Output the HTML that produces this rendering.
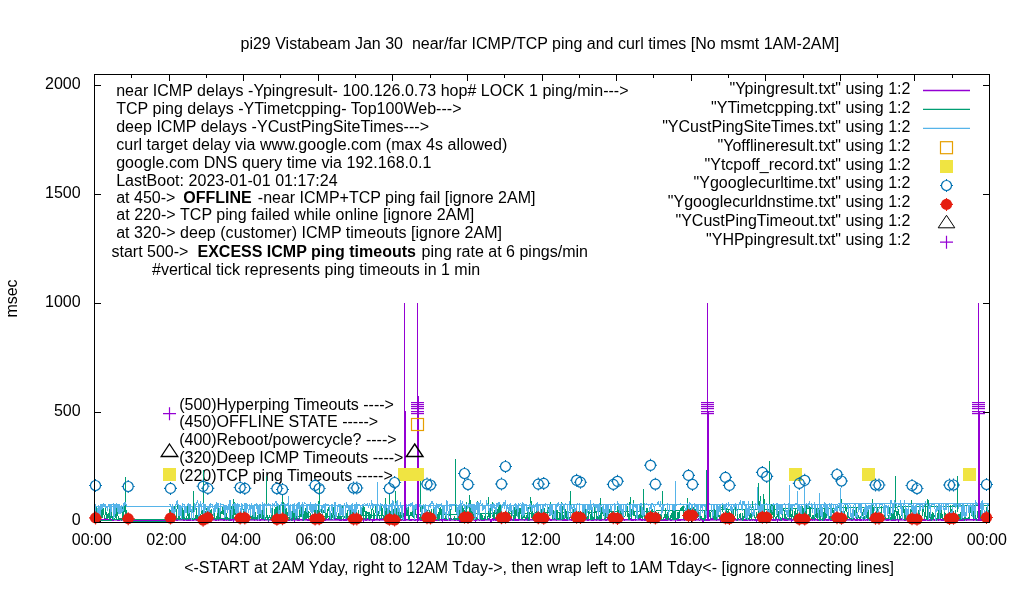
<!DOCTYPE html>
<html><head><meta charset="utf-8"><style>html,body{margin:0;padding:0;background:#fff;overflow:hidden}svg{display:block;will-change:transform}</style></head>
<body><svg width="1020" height="600" viewBox="0 0 1020 600">
<rect width="1020" height="600" fill="#fff"/>
<g font-family="Liberation Sans, sans-serif" font-size="16" fill="#000" style="white-space:pre"><text x="240.5" y="48.8" text-anchor="start" >pi29 Vistabeam Jan 30  near/far ICMP/TCP ping and curl times [No msmt 1AM-2AM]</text><text x="80.6" y="525.0" text-anchor="end" >0</text><text x="80.6" y="416.0" text-anchor="end" >500</text><text x="80.6" y="307.0" text-anchor="end" >1000</text><text x="80.6" y="198.0" text-anchor="end" >1500</text><text x="80.6" y="89.0" text-anchor="end" >2000</text><text x="91.8" y="544.9" text-anchor="middle" >00:00</text><text x="166.38333333333333" y="544.9" text-anchor="middle" >02:00</text><text x="240.96666666666667" y="544.9" text-anchor="middle" >04:00</text><text x="315.55" y="544.9" text-anchor="middle" >06:00</text><text x="390.1333333333333" y="544.9" text-anchor="middle" >08:00</text><text x="465.7166666666667" y="544.9" text-anchor="middle" >10:00</text><text x="540.6999999999999" y="544.9" text-anchor="middle" >12:00</text><text x="614.7833333333333" y="544.9" text-anchor="middle" >14:00</text><text x="689.8666666666666" y="544.9" text-anchor="middle" >16:00</text><text x="764.25" y="544.9" text-anchor="middle" >18:00</text><text x="838.6333333333333" y="544.9" text-anchor="middle" >20:00</text><text x="912.9166666666666" y="544.9" text-anchor="middle" >22:00</text><text x="986.8" y="544.9" text-anchor="middle" >00:00</text><text x="184.2" y="573" text-anchor="start" >&lt;-START at 2AM Yday, right to 12AM Tday-&gt;, then wrap left to 1AM Tday&lt;- [ignore connecting lines]</text><text transform="translate(17.2,298.5) rotate(-90)" text-anchor="middle">msec</text><text x="116.2" y="95.9" text-anchor="start" letter-spacing="0.03">near ICMP delays -Ypingresult- 100.126.0.73 hop# LOCK 1 ping/min---&gt;</text><text x="116.2" y="113.85" text-anchor="start" letter-spacing="0.03">TCP ping delays -YTimetcpping- Top100Web---&gt;</text><text x="116.2" y="131.8" text-anchor="start" letter-spacing="0.03">deep ICMP delays -YCustPingSiteTimes---&gt;</text><text x="116.2" y="149.75" text-anchor="start" letter-spacing="0.03">curl target delay via www.google.com (max 4s allowed)</text><text x="116.2" y="167.7" text-anchor="start" letter-spacing="0.03">google.com DNS query time via 192.168.0.1</text><text x="116.2" y="185.65" text-anchor="start" letter-spacing="0.03">LastBoot: 2023-01-01 01:17:24</text><text x="116.2" y="202.8">at 450-&gt; <tspan x="183.3" font-weight="bold">OFFLINE</tspan><tspan x="257.8">-near ICMP+TCP ping fail [ignore 2AM]</tspan></text><text x="116.2" y="220.4" text-anchor="start" letter-spacing="0.05">at 220-&gt; TCP ping failed while online [ignore 2AM]</text><text x="116.2" y="238.2" text-anchor="start" letter-spacing="0.03">at 320-&gt; deep (customer) ICMP timeouts [ignore 2AM]</text><text x="111.5" y="257.3">start 500-&gt;<tspan x="197.5" font-weight="bold">EXCESS ICMP ping timeouts</tspan><tspan x="421.6">ping rate at 6 pings/min</tspan></text><text x="152" y="275.1" text-anchor="start" >#vertical tick represents ping timeouts in 1 min</text><text x="910.4" y="93.9" text-anchor="end" >"Ypingresult.txt" using 1:2</text><text x="910.4" y="112.80000000000001" text-anchor="end" >"YTimetcpping.txt" using 1:2</text><text x="910.4" y="131.7" text-anchor="end" >"YCustPingSiteTimes.txt" using 1:2</text><text x="910.4" y="150.6" text-anchor="end" >"Yofflineresult.txt" using 1:2</text><text x="910.4" y="169.5" text-anchor="end" >"Ytcpoff_record.txt" using 1:2</text><text x="910.4" y="188.4" text-anchor="end" >"Ygooglecurltime.txt" using 1:2</text><text x="910.4" y="207.3" text-anchor="end" >"Ygooglecurldnstime.txt" using 1:2</text><text x="910.4" y="226.2" text-anchor="end" >"YCustPingTimeout.txt" using 1:2</text><text x="910.4" y="245.1" text-anchor="end" >"YHPpingresult.txt" using 1:2</text><text x="179.2" y="409.9" text-anchor="start" >(500)Hyperping Timeouts ----&gt;</text><text x="179.2" y="427.35" text-anchor="start" >(450)OFFLINE STATE -----&gt;</text><text x="179.2" y="444.8" text-anchor="start" >(400)Reboot/powercycle? ----&gt;</text><text x="179.2" y="463.2" text-anchor="start" >(320)Deep ICMP Timeouts ----&gt;</text><text x="179.2" y="480.7" text-anchor="start" >(220)TCP ping Timeouts -----&gt;</text></g><rect x="95" y="521" width="6" height="1" fill="#000"/><rect x="983" y="521" width="6" height="1" fill="#000"/><rect x="95" y="412" width="6" height="1" fill="#000"/><rect x="983" y="412" width="6" height="1" fill="#000"/><rect x="95" y="303" width="6" height="1" fill="#000"/><rect x="983" y="303" width="6" height="1" fill="#000"/><rect x="95" y="194" width="6" height="1" fill="#000"/><rect x="983" y="194" width="6" height="1" fill="#000"/><rect x="95" y="85" width="6" height="1" fill="#000"/><rect x="983" y="85" width="6" height="1" fill="#000"/><rect x="94" y="75" width="1" height="6" fill="#000"/><rect x="94" y="516" width="1" height="6" fill="#000"/><rect x="131" y="75" width="1" height="3" fill="#000"/><rect x="131" y="519" width="1" height="3" fill="#000"/><rect x="169" y="75" width="1" height="6" fill="#000"/><rect x="169" y="516" width="1" height="6" fill="#000"/><rect x="206" y="75" width="1" height="3" fill="#000"/><rect x="206" y="519" width="1" height="3" fill="#000"/><rect x="243" y="75" width="1" height="6" fill="#000"/><rect x="243" y="516" width="1" height="6" fill="#000"/><rect x="280" y="75" width="1" height="3" fill="#000"/><rect x="280" y="519" width="1" height="3" fill="#000"/><rect x="318" y="75" width="1" height="6" fill="#000"/><rect x="318" y="516" width="1" height="6" fill="#000"/><rect x="355" y="75" width="1" height="3" fill="#000"/><rect x="355" y="519" width="1" height="3" fill="#000"/><rect x="392" y="75" width="1" height="6" fill="#000"/><rect x="392" y="516" width="1" height="6" fill="#000"/><rect x="430" y="75" width="1" height="3" fill="#000"/><rect x="430" y="519" width="1" height="3" fill="#000"/><rect x="467" y="75" width="1" height="6" fill="#000"/><rect x="467" y="516" width="1" height="6" fill="#000"/><rect x="504" y="75" width="1" height="3" fill="#000"/><rect x="504" y="519" width="1" height="3" fill="#000"/><rect x="542" y="75" width="1" height="6" fill="#000"/><rect x="542" y="516" width="1" height="6" fill="#000"/><rect x="579" y="75" width="1" height="3" fill="#000"/><rect x="579" y="519" width="1" height="3" fill="#000"/><rect x="616" y="75" width="1" height="6" fill="#000"/><rect x="616" y="516" width="1" height="6" fill="#000"/><rect x="653" y="75" width="1" height="3" fill="#000"/><rect x="653" y="519" width="1" height="3" fill="#000"/><rect x="691" y="75" width="1" height="6" fill="#000"/><rect x="691" y="516" width="1" height="6" fill="#000"/><rect x="728" y="75" width="1" height="3" fill="#000"/><rect x="728" y="519" width="1" height="3" fill="#000"/><rect x="765" y="75" width="1" height="6" fill="#000"/><rect x="765" y="516" width="1" height="6" fill="#000"/><rect x="803" y="75" width="1" height="3" fill="#000"/><rect x="803" y="519" width="1" height="3" fill="#000"/><rect x="840" y="75" width="1" height="6" fill="#000"/><rect x="840" y="516" width="1" height="6" fill="#000"/><rect x="877" y="75" width="1" height="3" fill="#000"/><rect x="877" y="519" width="1" height="3" fill="#000"/><rect x="914" y="75" width="1" height="6" fill="#000"/><rect x="914" y="516" width="1" height="6" fill="#000"/><rect x="952" y="75" width="1" height="3" fill="#000"/><rect x="952" y="519" width="1" height="3" fill="#000"/><rect x="989" y="75" width="1" height="6" fill="#000"/><rect x="989" y="516" width="1" height="6" fill="#000"/><rect x="94.5" y="519" width="32.81666666666666" height="1.6" fill="#9400d3"/><rect x="169.08333333333331" y="519" width="819.2979166666667" height="1.6" fill="#9400d3"/><path d="M94.5,506.5L989.5,503.5" stroke="#56b4e9" stroke-width="1" fill="none" shape-rendering="crispEdges"/><path d="M94.50,518.7L95.12,520.4L95.74,520.7L96.36,520.4L96.99,518.7L97.61,519.3L98.23,520.2L98.85,519.7L99.47,520.1L100.09,520.1L100.72,519.4L101.34,520.3L101.96,519.8L102.58,520.5L103.20,519.9L103.82,520.1L104.44,520.5L105.07,518.7L105.69,518.8L106.31,519.4L106.93,518.8L107.55,520.7L108.17,520.5L108.80,520.3L109.42,520.4L110.04,519.2L110.66,520.7L111.28,520.6L111.90,520.6L112.52,520.4L113.15,518.9L113.77,520.0L114.39,519.8L115.01,519.2L115.63,519.4L116.25,519.8L116.88,519.0L117.50,520.3L118.12,519.8L118.74,520.1L119.36,520.7L119.98,519.6L120.60,518.9L121.23,520.7L121.85,519.7L122.47,519.6L123.09,520.3L123.71,518.9L124.33,519.9L124.95,520.0L125.58,519.3L126.20,518.8L126.82,519.2M169.08,520.2L169.70,519.6L170.33,519.4L170.95,518.9L171.57,520.5L172.19,519.6L172.81,519.3L173.43,519.7L174.06,519.3L174.68,520.5L175.30,518.7L175.92,519.8L176.54,520.1L177.16,519.8L177.78,520.2L178.41,518.8L179.03,519.4L179.65,518.9L180.27,519.2L180.89,519.6L181.51,519.6L182.14,519.1L182.76,519.7L183.38,518.6L184.00,520.4L184.62,520.6L185.24,519.5L185.86,519.1L186.49,520.4L187.11,520.2L187.73,518.9L188.35,520.0L188.97,520.6L189.59,519.0L190.22,520.6L190.84,518.7L191.46,519.1L192.08,520.5L192.70,518.6L193.32,518.8L193.94,520.3L194.57,519.3L195.19,519.8L195.81,519.6L196.43,520.7L197.05,520.1L197.67,520.4L198.30,519.1L198.92,519.1L199.54,520.7L200.16,520.8L200.78,520.1L201.40,519.4L202.02,520.4L202.65,519.4L203.27,518.7L203.89,519.2L204.51,518.6L205.13,519.6L205.75,520.6L206.38,519.3L207.00,519.1L207.62,520.8L208.24,519.1L208.86,518.9L209.48,519.1L210.10,520.8L210.73,519.6L211.35,519.0L211.97,519.2L212.59,519.4L213.21,518.6L213.83,519.8L214.45,519.0L215.08,519.8L215.70,520.2L216.32,520.5L216.94,520.0L217.56,518.8L218.18,520.7L218.81,520.4L219.43,519.0L220.05,520.2L220.67,518.9L221.29,519.5L221.91,519.1L222.53,518.9L223.16,518.8L223.78,520.7L224.40,520.8L225.02,518.7L225.64,518.9L226.26,518.7L226.89,520.3L227.51,519.9L228.13,519.2L228.75,520.2L229.37,520.1L229.99,520.6L230.61,518.8L231.24,519.6L231.86,520.5L232.48,519.4L233.10,518.7L233.72,520.7L234.34,519.0L234.97,520.2L235.59,518.7L236.21,519.8L236.83,519.1L237.45,520.2L238.07,520.1L238.69,519.6L239.32,520.6L239.94,518.7L240.56,519.9L241.18,520.6L241.80,520.4L242.42,520.3L243.05,520.2L243.67,518.7L244.29,519.1L244.91,520.3L245.53,519.7L246.15,520.1L246.77,520.3L247.40,520.6L248.02,520.5L248.64,519.4L249.26,519.6L249.88,519.0L250.50,519.3L251.12,518.8L251.75,519.6L252.37,519.5L252.99,519.9L253.61,519.5L254.23,520.1L254.85,520.3L255.48,519.5L256.10,519.7L256.72,519.7L257.34,520.4L257.96,520.3L258.58,518.6L259.20,520.2L259.83,518.9L260.45,520.7L261.07,519.8L261.69,519.2L262.31,519.7L262.93,518.7L263.56,518.6L264.18,519.1L264.80,520.6L265.42,519.0L266.04,519.2L266.66,519.7L267.28,519.8L267.91,520.0L268.53,520.8L269.15,519.3L269.77,519.6L270.39,519.7L271.01,519.3L271.64,520.5L272.26,519.9L272.88,520.1L273.50,518.8L274.12,520.4L274.74,519.5L275.36,519.9L275.99,519.6L276.61,518.6L277.23,518.6L277.85,520.2L278.47,520.7L279.09,520.4L279.72,518.7L280.34,519.4L280.96,520.3L281.58,519.9L282.20,519.4L282.82,519.5L283.44,520.5L284.07,519.4L284.69,519.1L285.31,520.3L285.93,520.6L286.55,519.0L287.17,518.7L287.80,519.9L288.42,519.8L289.04,520.7L289.66,519.8L290.28,519.5L290.90,520.1L291.52,518.7L292.15,520.3L292.77,520.7L293.39,519.2L294.01,518.6L294.63,520.6L295.25,519.6L295.88,518.7L296.50,518.9L297.12,520.6L297.74,519.2L298.36,518.8L298.98,520.4L299.60,520.6L300.23,519.0L300.85,519.9L301.47,519.5L302.09,519.7L302.71,520.4L303.33,519.6L303.95,520.2L304.58,519.8L305.20,519.2L305.82,519.9L306.44,518.7L307.06,518.9L307.68,520.4L308.31,520.7L308.93,520.4L309.55,520.7L310.17,519.6L310.79,520.0L311.41,520.1L312.03,519.6L312.66,520.7L313.28,518.9L313.90,520.4L314.52,519.8L315.14,519.4L315.76,519.7L316.39,520.5L317.01,519.1L317.63,520.0L318.25,519.6L318.87,519.9L319.49,519.9L320.11,519.8L320.74,519.0L321.36,519.3L321.98,518.6L322.60,520.8L323.22,519.4L323.84,519.8L324.47,520.8L325.09,520.4L325.71,520.6L326.33,519.0L326.95,519.5L327.57,519.9L328.19,519.8L328.82,518.8L329.44,518.7L330.06,519.2L330.68,518.7L331.30,518.7L331.92,519.9L332.55,519.1L333.17,519.4L333.79,519.4L334.41,519.0L335.03,518.8L335.65,519.0L336.27,519.7L336.90,519.9L337.52,519.7L338.14,519.3L338.76,518.8L339.38,519.1L340.00,520.5L340.62,519.4L341.25,520.0L341.87,518.7L342.49,520.0L343.11,520.1L343.73,520.5L344.35,520.6L344.98,519.2L345.60,520.4L346.22,518.9L346.84,520.7L347.46,519.0L348.08,519.7L348.70,519.8L349.33,519.9L349.95,519.1L350.57,519.3L351.19,520.3L351.81,519.6L352.43,520.0L353.06,519.3L353.68,520.4L354.30,519.8L354.92,520.4L355.54,519.3L356.16,518.8L356.78,520.5L357.41,519.3L358.03,519.6L358.65,520.7L359.27,518.7L359.89,520.0L360.51,519.6L361.14,519.8L361.76,520.5L362.38,519.1L363.00,518.8L363.62,520.8L364.24,519.8L364.86,518.6L365.49,520.0L366.11,519.4L366.73,520.7L367.35,518.8L367.97,519.9L368.59,519.2L369.22,520.4L369.84,520.4L370.46,518.9L371.08,519.1L371.70,519.5L372.32,520.8L372.94,519.2L373.57,520.3L374.19,520.3L374.81,519.7L375.43,519.3L376.05,518.9L376.67,519.0L377.30,519.3L377.92,519.4L378.54,519.2L379.16,519.5L379.78,520.7L380.40,519.0L381.02,520.2L381.65,518.7L382.27,518.6L382.89,519.3L383.51,519.5L384.13,520.2L384.75,520.8L385.38,520.0L386.00,518.7L386.62,519.4L387.24,520.3L387.86,519.6L388.48,519.5L389.10,520.0L389.73,520.3L390.35,520.5L390.97,519.7L391.59,520.5L392.21,520.5L392.83,518.9L393.45,520.6L394.08,520.1L394.70,520.8L395.32,519.0L395.94,519.7L396.56,519.2L397.18,519.4L397.81,520.8L398.43,519.5L399.05,520.6L399.67,520.5L400.29,519.3L400.91,520.8L401.53,519.8L402.16,519.9L402.78,519.1L403.40,519.1L404.02,520.5L404.64,519.2L405.26,519.5L405.89,518.9L406.51,519.4L407.13,519.2L407.75,519.0L408.37,519.4L408.99,519.4L409.61,520.1L410.24,520.6L410.86,519.5L411.48,520.1L412.10,518.9L412.72,519.8L413.34,519.5L413.97,519.7L414.59,520.5L415.21,520.4L415.83,519.6L416.45,519.8L417.07,519.2L417.69,520.7L418.32,518.8L418.94,520.1L419.56,519.1L420.18,519.2L420.80,520.4L421.42,520.6L422.05,518.7L422.67,520.2L423.29,520.8L423.91,520.6L424.53,518.9L425.15,519.9L425.77,519.6L426.40,519.8L427.02,519.7L427.64,520.1L428.26,519.7L428.88,518.9L429.50,519.5L430.12,518.6L430.75,520.3L431.37,518.8L431.99,519.1L432.61,520.4L433.23,519.1L433.85,519.1L434.48,520.3L435.10,520.3L435.72,520.2L436.34,520.4L436.96,520.7L437.58,520.4L438.20,520.1L438.83,520.4L439.45,520.4L440.07,519.5L440.69,520.0L441.31,520.4L441.93,519.4L442.56,520.7L443.18,518.6L443.80,518.8L444.42,520.1L445.04,520.0L445.66,520.7L446.28,520.6L446.91,518.9L447.53,520.3L448.15,520.1L448.77,519.9L449.39,519.0L450.01,520.7L450.64,519.6L451.26,519.0L451.88,518.9L452.50,519.4L453.12,518.7L453.74,518.8L454.36,519.3L454.99,520.7L455.61,520.5L456.23,518.7L456.85,519.9L457.47,520.3L458.09,520.5L458.72,519.9L459.34,520.7L459.96,518.6L460.58,520.4L461.20,519.3L461.82,519.8L462.44,520.2L463.07,520.8L463.69,518.9L464.31,519.5L464.93,520.1L465.55,520.7L466.17,520.2L466.80,519.3L467.42,518.8L468.04,520.3L468.66,519.1L469.28,519.6L469.90,519.9L470.52,520.6L471.15,520.0L471.77,518.9L472.39,518.7L473.01,519.1L473.63,518.7L474.25,520.0L474.88,518.7L475.50,520.6L476.12,519.0L476.74,520.6L477.36,519.9L477.98,518.7L478.60,519.5L479.23,520.5L479.85,519.9L480.47,519.7L481.09,520.4L481.71,519.5L482.33,519.3L482.95,520.7L483.58,519.5L484.20,520.3L484.82,520.0L485.44,519.8L486.06,519.1L486.68,519.6L487.31,518.7L487.93,520.0L488.55,518.9L489.17,519.0L489.79,518.8L490.41,520.5L491.03,518.9L491.66,520.8L492.28,518.9L492.90,519.4L493.52,520.3L494.14,519.6L494.76,519.6L495.39,519.0L496.01,520.7L496.63,520.7L497.25,520.5L497.87,518.8L498.49,520.8L499.11,520.2L499.74,520.4L500.36,519.1L500.98,518.9L501.60,518.6L502.22,520.8L502.84,519.1L503.47,519.4L504.09,520.2L504.71,519.7L505.33,519.5L505.95,519.5L506.57,520.7L507.19,519.7L507.82,520.7L508.44,519.2L509.06,520.0L509.68,520.2L510.30,520.7L510.92,519.4L511.55,518.7L512.17,519.9L512.79,520.1L513.41,520.0L514.03,520.4L514.65,519.8L515.27,518.6L515.90,520.7L516.52,519.7L517.14,520.1L517.76,520.6L518.38,519.1L519.00,520.4L519.62,519.0L520.25,519.8L520.87,520.1L521.49,518.9L522.11,519.3L522.73,518.9L523.35,519.7L523.98,519.5L524.60,520.2L525.22,518.8L525.84,518.9L526.46,519.6L527.08,520.3L527.70,519.0L528.33,520.7L528.95,520.7L529.57,519.0L530.19,519.6L530.81,519.4L531.43,519.9L532.06,519.4L532.68,519.5L533.30,520.8L533.92,520.4L534.54,520.5L535.16,518.7L535.78,520.5L536.41,520.4L537.03,520.4L537.65,520.2L538.27,519.7L538.89,519.4L539.51,519.6L540.14,519.4L540.76,519.6L541.38,520.2L542.00,520.8L542.62,520.5L543.24,520.6L543.86,520.4L544.49,519.6L545.11,519.2L545.73,520.2L546.35,518.7L546.97,518.9L547.59,519.0L548.22,518.8L548.84,520.7L549.46,519.0L550.08,519.4L550.70,520.2L551.32,519.8L551.94,520.3L552.57,519.0L553.19,519.7L553.81,519.6L554.43,519.5L555.05,519.0L555.67,519.1L556.30,519.8L556.92,520.5L557.54,518.7L558.16,519.0L558.78,519.5L559.40,519.0L560.02,518.7L560.65,519.3L561.27,519.0L561.89,519.5L562.51,520.6L563.13,520.3L563.75,519.9L564.38,520.6L565.00,519.5L565.62,520.5L566.24,519.7L566.86,520.7L567.48,520.5L568.10,520.1L568.73,519.4L569.35,518.7L569.97,519.0L570.59,519.0L571.21,520.6L571.83,519.6L572.45,519.6L573.08,519.5L573.70,519.8L574.32,520.8L574.94,518.7L575.56,520.1L576.18,519.4L576.81,518.6L577.43,520.1L578.05,519.5L578.67,519.9L579.29,520.7L579.91,520.1L580.53,518.9L581.16,520.0L581.78,518.9L582.40,519.9L583.02,519.1L583.64,519.5L584.26,519.7L584.89,518.8L585.51,518.9L586.13,518.7L586.75,519.7L587.37,520.1L587.99,519.5L588.61,520.1L589.24,519.8L589.86,520.1L590.48,518.9L591.10,518.7L591.72,520.2L592.34,519.6L592.97,520.5L593.59,519.4L594.21,519.9L594.83,519.7L595.45,519.7L596.07,520.3L596.69,519.4L597.32,519.1L597.94,519.1L598.56,519.2L599.18,520.4L599.80,519.4L600.42,519.6L601.05,520.6L601.67,520.3L602.29,519.2L602.91,519.3L603.53,519.2L604.15,519.3L604.77,519.1L605.40,519.1L606.02,520.4L606.64,519.1L607.26,518.8L607.88,519.1L608.50,519.2L609.12,519.4L609.75,519.8L610.37,519.8L610.99,519.4L611.61,519.1L612.23,519.1L612.85,519.0L613.48,519.0L614.10,518.9L614.72,519.1L615.34,520.7L615.96,520.7L616.58,518.6L617.20,519.0L617.83,518.9L618.45,520.8L619.07,519.1L619.69,520.1L620.31,520.2L620.93,520.7L621.56,520.5L622.18,519.8L622.80,520.2L623.42,519.4L624.04,520.4L624.66,520.5L625.28,519.0L625.91,519.5L626.53,519.6L627.15,519.9L627.77,519.9L628.39,518.9L629.01,519.1L629.64,519.6L630.26,518.8L630.88,519.5L631.50,519.6L632.12,520.6L632.74,519.8L633.36,520.0L633.99,519.1L634.61,519.9L635.23,519.8L635.85,520.2L636.47,519.8L637.09,519.3L637.72,518.7L638.34,518.9L638.96,519.5L639.58,518.7L640.20,518.9L640.82,519.0L641.44,520.4L642.07,520.5L642.69,519.7L643.31,520.0L643.93,519.7L644.55,520.6L645.17,520.8L645.80,519.2L646.42,518.8L647.04,519.5L647.66,519.9L648.28,519.6L648.90,520.5L649.52,520.5L650.15,519.3L650.77,520.5L651.39,518.6L652.01,518.8L652.63,519.4L653.25,520.4L653.88,519.5L654.50,520.6L655.12,519.3L655.74,519.6L656.36,519.1L656.98,520.7L657.60,519.0L658.23,520.5L658.85,520.0L659.47,518.6L660.09,520.4L660.71,519.8L661.33,519.9L661.95,520.5L662.58,519.9L663.20,520.6L663.82,519.8L664.44,520.2L665.06,518.7L665.68,519.8L666.31,519.1L666.93,520.3L667.55,520.4L668.17,518.9L668.79,518.9L669.41,518.6L670.03,520.4L670.66,520.1L671.28,520.5L671.90,520.3L672.52,519.0L673.14,518.8L673.76,519.6L674.39,519.8L675.01,519.1L675.63,520.6L676.25,518.8L676.87,519.4L677.49,520.6L678.11,520.6L678.74,520.0L679.36,519.4L679.98,520.4L680.60,519.9L681.22,519.7L681.84,519.0L682.47,519.7L683.09,519.4L683.71,519.8L684.33,520.4L684.95,519.7L685.57,519.0L686.19,519.9L686.82,519.8L687.44,520.5L688.06,520.2L688.68,520.8L689.30,519.1L689.92,519.1L690.55,519.6L691.17,519.0L691.79,519.0L692.41,519.7L693.03,519.8L693.65,519.0L694.27,519.2L694.90,519.9L695.52,520.6L696.14,519.9L696.76,519.8L697.38,519.5L698.00,518.9L698.62,518.9L699.25,520.7L699.87,518.9L700.49,518.8L701.11,518.7L701.73,519.8L702.35,520.7L702.98,518.6L703.60,520.6L704.22,518.9L704.84,518.6L705.46,520.2L706.08,520.4L706.70,520.0L707.33,518.6L707.95,519.7L708.57,519.1L709.19,520.4L709.81,520.0L710.43,519.9L711.06,519.6L711.68,518.8L712.30,519.1L712.92,518.7L713.54,519.6L714.16,519.9L714.78,518.8L715.41,518.8L716.03,519.1L716.65,520.2L717.27,519.5L717.89,519.0L718.51,519.2L719.14,519.0L719.76,519.6L720.38,520.8L721.00,519.4L721.62,520.1L722.24,519.1L722.86,519.4L723.49,518.7L724.11,519.1L724.73,520.5L725.35,519.0L725.97,518.8L726.59,520.6L727.22,520.5L727.84,520.2L728.46,519.9L729.08,520.1L729.70,519.0L730.32,520.4L730.94,519.8L731.57,519.3L732.19,520.5L732.81,518.9L733.43,520.2L734.05,519.8L734.67,519.0L735.30,519.5L735.92,520.0L736.54,520.3L737.16,520.2L737.78,519.3L738.40,519.6L739.02,520.2L739.65,519.4L740.27,519.2L740.89,519.3L741.51,518.8L742.13,520.7L742.75,520.1L743.37,519.6L744.00,520.5L744.62,520.8L745.24,520.5L745.86,519.9L746.48,518.8L747.10,520.7L747.73,520.5L748.35,519.9L748.97,520.1L749.59,520.3L750.21,520.2L750.83,520.5L751.45,519.0L752.08,518.9L752.70,519.9L753.32,519.1L753.94,519.3L754.56,520.4L755.18,520.2L755.81,519.6L756.43,520.6L757.05,519.1L757.67,520.5L758.29,520.2L758.91,519.5L759.53,520.7L760.16,519.3L760.78,520.3L761.40,520.6L762.02,520.0L762.64,519.4L763.26,518.8L763.89,520.5L764.51,518.6L765.13,520.3L765.75,519.4L766.37,520.1L766.99,520.6L767.61,518.8L768.24,520.0L768.86,519.5L769.48,519.2L770.10,519.9L770.72,520.3L771.34,519.7L771.97,519.1L772.59,520.2L773.21,520.4L773.83,520.0L774.45,520.4L775.07,519.0L775.69,519.9L776.32,518.9L776.94,519.1L777.56,520.6L778.18,518.8L778.80,519.8L779.42,520.8L780.05,520.3L780.67,520.2L781.29,520.4L781.91,518.7L782.53,519.0L783.15,518.6L783.77,519.7L784.40,519.4L785.02,520.4L785.64,520.2L786.26,520.6L786.88,520.4L787.50,520.6L788.12,518.9L788.75,518.9L789.37,519.7L789.99,519.0L790.61,518.9L791.23,520.8L791.85,518.9L792.48,519.7L793.10,518.8L793.72,518.7L794.34,518.7L794.96,520.4L795.58,520.7L796.20,520.8L796.83,520.5L797.45,518.8L798.07,520.0L798.69,518.8L799.31,519.1L799.93,520.0L800.56,519.7L801.18,519.2L801.80,519.2L802.42,518.7L803.04,519.4L803.66,518.7L804.28,519.7L804.91,519.0L805.53,518.7L806.15,520.4L806.77,520.2L807.39,520.4L808.01,519.8L808.64,519.3L809.26,518.8L809.88,519.0L810.50,520.2L811.12,519.7L811.74,519.3L812.36,520.0L812.99,519.3L813.61,519.8L814.23,520.5L814.85,520.4L815.47,518.8L816.09,519.4L816.72,519.4L817.34,519.4L817.96,520.6L818.58,519.5L819.20,518.6L819.82,519.4L820.44,520.2L821.07,520.2L821.69,519.3L822.31,518.7L822.93,519.8L823.55,519.7L824.17,520.7L824.80,520.3L825.42,519.0L826.04,519.4L826.66,520.1L827.28,520.0L827.90,520.1L828.52,520.1L829.15,520.0L829.77,518.8L830.39,519.1L831.01,520.7L831.63,520.0L832.25,520.5L832.88,519.1L833.50,520.4L834.12,518.7L834.74,519.5L835.36,519.4L835.98,519.8L836.60,518.6L837.23,518.6L837.85,519.1L838.47,520.1L839.09,520.6L839.71,520.7L840.33,519.5L840.95,518.8L841.58,520.1L842.20,519.6L842.82,519.8L843.44,519.0L844.06,519.7L844.68,519.1L845.31,519.2L845.93,520.5L846.55,520.6L847.17,518.8L847.79,519.0L848.41,519.6L849.03,519.4L849.66,519.3L850.28,519.0L850.90,519.4L851.52,520.5L852.14,519.3L852.76,520.4L853.39,519.5L854.01,520.0L854.63,518.8L855.25,520.6L855.87,520.0L856.49,520.0L857.11,520.5L857.74,520.6L858.36,519.5L858.98,520.1L859.60,520.7L860.22,520.4L860.84,520.7L861.47,520.4L862.09,519.8L862.71,518.9L863.33,518.6L863.95,520.3L864.57,519.2L865.19,520.1L865.82,519.9L866.44,519.9L867.06,519.2L867.68,520.6L868.30,519.7L868.92,519.3L869.55,520.4L870.17,520.7L870.79,518.9L871.41,520.0L872.03,519.7L872.65,520.5L873.27,519.7L873.90,519.2L874.52,519.4L875.14,520.5L875.76,519.6L876.38,518.6L877.00,519.5L877.62,520.5L878.25,519.8L878.87,518.8L879.49,518.7L880.11,519.2L880.73,520.3L881.35,519.7L881.98,518.9L882.60,520.1L883.22,520.6L883.84,520.3L884.46,519.1L885.08,519.7L885.70,520.0L886.33,520.3L886.95,519.0L887.57,520.3L888.19,519.8L888.81,520.3L889.43,519.1L890.06,520.0L890.68,519.8L891.30,519.7L891.92,520.3L892.54,519.2L893.16,520.8L893.78,520.2L894.41,518.6L895.03,520.7L895.65,518.8L896.27,519.2L896.89,518.9L897.51,519.8L898.14,519.3L898.76,520.8L899.38,519.0L900.00,519.8L900.62,519.6L901.24,518.6L901.86,519.8L902.49,519.7L903.11,519.6L903.73,519.7L904.35,519.2L904.97,520.5L905.59,519.7L906.22,519.2L906.84,519.1L907.46,519.8L908.08,520.2L908.70,520.7L909.32,520.7L909.94,518.8L910.57,520.5L911.19,519.4L911.81,520.3L912.43,518.9L913.05,519.2L913.67,518.6L914.30,518.6L914.92,519.8L915.54,520.4L916.16,519.8L916.78,519.9L917.40,519.7L918.02,520.8L918.65,518.8L919.27,520.0L919.89,520.3L920.51,519.4L921.13,519.6L921.75,519.2L922.38,520.8L923.00,520.5L923.62,519.4L924.24,519.9L924.86,520.3L925.48,520.8L926.10,519.1L926.73,519.6L927.35,520.2L927.97,519.4L928.59,520.3L929.21,519.7L929.83,520.2L930.45,520.7L931.08,519.8L931.70,520.2L932.32,519.1L932.94,520.0L933.56,519.8L934.18,520.0L934.81,520.6L935.43,519.5L936.05,520.3L936.67,519.7L937.29,519.0L937.91,519.2L938.53,520.5L939.16,520.0L939.78,519.5L940.40,518.7L941.02,519.4L941.64,520.2L942.26,519.0L942.89,520.3L943.51,520.4L944.13,519.5L944.75,519.9L945.37,519.1L945.99,519.5L946.61,519.0L947.24,520.4L947.86,520.7L948.48,518.9L949.10,520.5L949.72,520.4L950.34,519.6L950.97,520.6L951.59,518.9L952.21,519.2L952.83,519.0L953.45,520.0L954.07,520.6L954.69,518.7L955.32,520.1L955.94,520.7L956.56,519.2L957.18,519.4L957.80,519.0L958.42,520.8L959.05,520.6L959.67,520.4L960.29,519.0L960.91,520.7L961.53,520.2L962.15,519.4L962.77,520.8L963.40,520.0L964.02,520.0L964.64,518.8L965.26,519.6L965.88,520.0L966.50,520.4L967.12,519.7L967.75,519.6L968.37,518.8L968.99,519.8L969.61,518.7L970.23,519.4L970.85,519.0L971.48,519.8L972.10,519.5L972.72,519.1L973.34,519.9L973.96,520.4L974.58,519.2L975.20,520.1L975.83,519.4L976.45,520.8L977.07,520.6L977.69,519.6L978.31,520.4L978.93,520.5L979.56,519.4L980.18,519.4L980.80,520.5L981.42,520.0L982.04,519.5L982.66,520.1L983.28,520.1L983.91,519.5L984.53,518.7L985.15,520.8L985.77,519.9L986.39,520.0L987.01,519.7L987.64,519.6L988.26,519.6M127.31666666666666,520.5H169.08333333333331" stroke="#9400d3" stroke-width="1" fill="none" shape-rendering="crispEdges"/><path d="M94.50,513.0L95.12,506.4L95.74,519.2L96.36,506.8L96.99,513.2L97.61,513.8L98.23,512.9L98.85,516.4L99.47,518.1L100.09,519.9L100.72,519.6L101.34,506.8L101.96,518.2L102.58,511.2L103.20,508.5L103.82,513.5L104.44,518.5L105.07,514.5L105.69,505.0L106.31,518.3L106.93,518.9L107.55,518.3L108.17,512.9L108.80,516.6L109.42,519.7L110.04,505.4L110.66,519.1L111.28,508.1L111.90,518.2L112.52,516.8L113.15,519.4L113.77,517.4L114.39,519.6L115.01,518.4L115.63,507.0L116.25,518.8L116.88,505.1L117.50,512.8L118.12,516.6L118.74,519.0L119.36,519.4L119.98,518.3L120.60,519.6L121.23,519.9L121.85,518.3L122.47,518.0L123.09,506.0L123.71,516.7L124.33,507.2L124.95,506.1L125.58,517.9L126.20,512.9L126.82,509.6M169.08,508.8L169.70,518.2L170.33,515.3L170.95,510.2L171.57,506.3L172.19,511.9L172.81,508.7L173.43,512.5L174.06,505.6L174.68,519.3L175.30,515.9L175.92,519.6L176.54,519.2L177.16,506.6L177.78,505.0L178.41,516.1L179.03,520.0L179.65,519.3L180.27,505.2L180.89,512.7L181.51,519.9L182.14,508.1L182.76,518.3L183.38,519.0L184.00,510.2L184.62,518.9L185.24,519.2L185.86,518.6L186.49,519.3L187.11,515.8L187.73,505.7L188.35,520.0L188.97,507.4L189.59,518.9L190.22,508.9L190.84,510.7L191.46,514.4L192.08,519.3L192.70,518.9L193.32,519.9L193.94,519.4L194.57,518.8L195.19,518.2L195.81,518.0L196.43,508.5L197.05,518.8L197.67,515.2L198.30,518.6L198.92,519.0L199.54,510.9L200.16,519.8L200.78,519.5L201.40,505.0L202.02,510.3L202.65,518.8L203.27,519.5L203.89,519.8L204.51,518.6L205.13,518.0L205.75,511.4L206.38,519.5L207.00,508.0L207.62,519.7L208.24,515.6L208.86,519.7L209.48,516.1L210.10,509.9L210.73,520.0L211.35,509.4L211.97,518.0L212.59,514.3L213.21,514.8L213.83,508.1L214.45,514.6L215.08,519.3L215.70,518.7L216.32,517.3L216.94,519.8L217.56,512.8L218.18,506.9L218.81,518.6L219.43,517.7L220.05,506.8L220.67,518.1L221.29,511.3L221.91,514.3L222.53,512.1L223.16,505.6L223.78,512.6L224.40,519.6L225.02,516.8L225.64,518.5L226.26,512.6L226.89,519.8L227.51,518.1L228.13,518.8L228.75,518.9L229.37,520.0L229.99,518.9L230.61,505.0L231.24,508.1L231.86,506.4L232.48,514.7L233.10,518.5L233.72,499.1L234.34,514.6L234.97,502.3L235.59,506.6L236.21,519.4L236.83,514.6L237.45,516.2L238.07,518.6L238.69,519.4L239.32,514.3L239.94,518.7L240.56,519.5L241.18,518.1L241.80,505.5L242.42,506.5L243.05,508.9L243.67,517.8L244.29,515.6L244.91,505.0L245.53,517.0L246.15,518.6L246.77,516.8L247.40,518.4L248.02,519.0L248.64,519.5L249.26,519.5L249.88,518.3L250.50,507.3L251.12,519.6L251.75,519.6L252.37,510.8L252.99,518.9L253.61,513.6L254.23,519.4L254.85,518.2L255.48,511.8L256.10,519.6L256.72,516.7L257.34,519.0L257.96,515.3L258.58,509.1L259.20,509.0L259.83,518.8L260.45,513.4L261.07,518.9L261.69,518.5L262.31,508.7L262.93,518.9L263.56,517.5L264.18,506.5L264.80,519.6L265.42,519.6L266.04,518.2L266.66,512.0L267.28,517.6L267.91,519.4L268.53,519.9L269.15,515.8L269.77,516.6L270.39,517.4L271.01,519.6L271.64,518.1L272.26,507.8L272.88,519.2L273.50,518.9L274.12,519.3L274.74,511.3L275.36,506.8L275.99,519.1L276.61,507.3L277.23,518.0L277.85,505.8L278.47,519.4L279.09,505.2L279.72,517.9L280.34,518.3L280.96,516.8L281.58,519.7L282.20,511.4L282.82,495.9L283.44,517.5L284.07,519.4L284.69,516.3L285.31,508.8L285.93,518.5L286.55,507.8L287.17,512.8L287.80,519.6L288.42,519.7L289.04,519.5L289.66,506.3L290.28,518.1L290.90,514.6L291.52,520.0L292.15,519.7L292.77,507.2L293.39,518.2L294.01,507.1L294.63,519.0L295.25,519.7L295.88,518.3L296.50,518.5L297.12,512.4L297.74,518.4L298.36,520.0L298.98,519.7L299.60,507.8L300.23,516.6L300.85,509.1L301.47,506.0L302.09,517.6L302.71,518.5L303.33,505.1L303.95,519.7L304.58,519.0L305.20,507.7L305.82,518.4L306.44,518.0L307.06,506.8L307.68,516.2L308.31,519.1L308.93,511.5L309.55,512.8L310.17,513.0L310.79,519.6L311.41,514.6L312.03,518.5L312.66,518.2L313.28,507.2L313.90,506.3L314.52,515.7L315.14,508.3L315.76,518.5L316.39,518.3L317.01,516.0L317.63,510.3L318.25,519.5L318.87,501.4L319.49,516.8L320.11,518.6L320.74,519.0L321.36,506.3L321.98,511.4L322.60,519.5L323.22,510.4L323.84,510.6L324.47,511.6L325.09,509.8L325.71,519.6L326.33,512.6L326.95,519.3L327.57,509.6L328.19,509.0L328.82,507.4L329.44,519.2L330.06,518.7L330.68,511.7L331.30,514.3L331.92,519.6L332.55,510.8L333.17,518.5L333.79,506.7L334.41,518.7L335.03,507.3L335.65,517.5L336.27,518.4L336.90,518.5L337.52,518.1L338.14,514.9L338.76,518.6L339.38,506.0L340.00,518.6L340.62,515.2L341.25,517.7L341.87,519.4L342.49,505.6L343.11,518.5L343.73,518.6L344.35,516.9L344.98,516.2L345.60,519.4L346.22,512.7L346.84,518.5L347.46,510.4L348.08,518.5L348.70,518.3L349.33,518.3L349.95,509.3L350.57,518.9L351.19,505.2L351.81,506.6L352.43,519.3L353.06,516.6L353.68,518.3L354.30,518.6L354.92,513.5L355.54,512.5L356.16,511.6L356.78,518.0L357.41,519.0L358.03,518.3L358.65,509.9L359.27,519.2L359.89,519.3L360.51,507.8L361.14,511.2L361.76,519.1L362.38,512.3L363.00,506.2L363.62,519.5L364.24,507.6L364.86,508.6L365.49,518.9L366.11,518.3L366.73,510.6L367.35,513.2L367.97,511.7L368.59,518.4L369.22,519.1L369.84,512.5L370.46,518.8L371.08,518.2L371.70,512.0L372.32,505.3L372.94,509.1L373.57,518.1L374.19,518.7L374.81,516.4L375.43,505.9L376.05,508.5L376.67,513.5L377.30,519.1L377.92,513.7L378.54,512.3L379.16,515.6L379.78,518.4L380.40,518.7L381.02,518.4L381.65,505.9L382.27,508.9L382.89,514.2L383.51,518.2L384.13,519.2L384.75,518.6L385.38,498.2L386.00,516.3L386.62,507.7L387.24,518.3L387.86,518.7L388.48,518.1L389.10,518.8L389.73,508.5L390.35,513.5L390.97,518.6L391.59,511.8L392.21,519.7L392.83,518.0L393.45,518.2L394.08,508.5L394.70,506.6L395.32,507.0L395.94,506.7L396.56,519.8L397.18,511.1L397.81,513.2L398.43,511.3L399.05,518.0L399.67,508.0L400.29,514.7L400.91,519.0L401.53,515.7L402.16,519.1L402.78,519.0L403.40,512.9L404.02,519.7L404.64,518.2L405.26,511.8L405.89,517.0L406.51,510.6L407.13,507.7L407.75,514.5L408.37,505.7L408.99,519.6L409.61,519.4L410.24,512.9L410.86,511.9L411.48,512.7L412.10,516.5L412.72,506.3L413.34,505.8L413.97,518.3L414.59,509.7L415.21,509.6L415.83,513.1L416.45,518.4L417.07,513.5L417.69,519.2L418.32,518.1L418.94,517.0L419.56,518.3L420.18,518.8L420.80,515.4L421.42,513.4L422.05,520.0L422.67,506.4L423.29,518.2L423.91,516.3L424.53,513.1L425.15,518.9L425.77,518.1L426.40,518.6L427.02,511.9L427.64,510.3L428.26,517.6L428.88,512.4L429.50,510.5L430.12,519.0L430.75,515.3L431.37,509.4L431.99,519.4L432.61,519.6L433.23,511.1L433.85,507.1L434.48,519.0L435.10,514.4L435.72,519.5L436.34,519.5L436.96,519.7L437.58,519.6L438.20,512.4L438.83,519.4L439.45,518.7L440.07,506.7L440.69,510.3L441.31,518.9L441.93,509.1L442.56,518.8L443.18,518.3L443.80,518.5L444.42,518.9L445.04,518.7L445.66,519.0L446.28,511.7L446.91,519.3L447.53,519.3L448.15,519.3L448.77,518.6L449.39,512.7L450.01,509.5L450.64,518.4L451.26,519.5L451.88,519.6L452.50,519.5L453.12,518.5L453.74,518.5L454.36,517.1L454.99,519.5L455.61,518.7L456.23,518.3L456.85,519.2L457.47,518.3L458.09,519.6L458.72,518.6L459.34,506.4L459.96,517.6L460.58,511.7L461.20,514.4L461.82,517.6L462.44,505.9L463.07,508.4L463.69,518.1L464.31,510.1L464.93,511.6L465.55,519.9L466.17,502.5L466.80,514.5L467.42,519.6L468.04,519.9L468.66,513.5L469.28,519.9L469.90,495.4L470.52,518.9L471.15,519.8L471.77,506.6L472.39,519.4L473.01,515.1L473.63,518.6L474.25,516.8L474.88,519.6L475.50,519.9L476.12,519.6L476.74,516.8L477.36,519.0L477.98,501.2L478.60,514.8L479.23,506.4L479.85,516.4L480.47,515.4L481.09,519.8L481.71,515.2L482.33,515.6L482.95,519.7L483.58,518.5L484.20,518.7L484.82,517.4L485.44,513.0L486.06,519.9L486.68,520.0L487.31,518.5L487.93,519.3L488.55,497.0L489.17,518.5L489.79,518.9L490.41,517.4L491.03,507.8L491.66,507.2L492.28,502.4L492.90,516.8L493.52,518.6L494.14,510.5L494.76,518.5L495.39,506.8L496.01,510.4L496.63,519.1L497.25,508.6L497.87,518.9L498.49,518.7L499.11,505.4L499.74,519.3L500.36,518.5L500.98,505.5L501.60,518.8L502.22,519.2L502.84,520.0L503.47,515.0L504.09,511.8L504.71,518.3L505.33,513.8L505.95,518.5L506.57,509.3L507.19,519.6L507.82,517.0L508.44,507.7L509.06,518.1L509.68,512.1L510.30,518.5L510.92,518.5L511.55,508.2L512.17,513.7L512.79,512.2L513.41,519.7L514.03,518.6L514.65,508.0L515.27,507.6L515.90,518.0L516.52,509.8L517.14,506.4L517.76,512.4L518.38,518.8L519.00,507.9L519.62,519.1L520.25,508.9L520.87,509.4L521.49,514.9L522.11,519.9L522.73,505.7L523.35,506.8L523.98,518.2L524.60,509.8L525.22,519.9L525.84,519.7L526.46,516.3L527.08,518.1L527.70,513.0L528.33,506.8L528.95,519.8L529.57,519.5L530.19,508.7L530.81,507.6L531.43,501.4L532.06,519.6L532.68,508.4L533.30,518.8L533.92,514.8L534.54,518.7L535.16,519.4L535.78,516.7L536.41,509.9L537.03,511.9L537.65,518.9L538.27,513.8L538.89,518.4L539.51,518.1L540.14,517.3L540.76,518.2L541.38,509.5L542.00,518.3L542.62,519.1L543.24,512.5L543.86,507.2L544.49,511.3L545.11,519.5L545.73,518.4L546.35,517.6L546.97,517.0L547.59,516.5L548.22,507.4L548.84,512.2L549.46,513.9L550.08,510.3L550.70,502.3L551.32,511.5L551.94,510.5L552.57,519.1L553.19,509.8L553.81,518.9L554.43,518.5L555.05,510.0L555.67,517.1L556.30,519.8L556.92,507.9L557.54,519.2L558.16,518.2L558.78,519.7L559.40,519.4L560.02,513.0L560.65,518.2L561.27,519.1L561.89,501.8L562.51,519.4L563.13,518.6L563.75,516.4L564.38,518.8L565.00,518.6L565.62,509.1L566.24,519.3L566.86,510.6L567.48,519.5L568.10,516.2L568.73,518.3L569.35,517.8L569.97,518.7L570.59,512.5L571.21,518.7L571.83,519.1L572.45,519.5L573.08,515.3L573.70,509.0L574.32,518.7L574.94,513.2L575.56,519.1L576.18,517.9L576.81,519.6L577.43,517.6L578.05,518.0L578.67,511.2L579.29,517.5L579.91,519.5L580.53,516.2L581.16,520.0L581.78,518.5L582.40,518.3L583.02,505.9L583.64,506.4L584.26,519.7L584.89,506.2L585.51,519.0L586.13,518.9L586.75,514.4L587.37,519.0L587.99,518.0L588.61,518.7L589.24,507.3L589.86,512.3L590.48,519.6L591.10,519.2L591.72,505.8L592.34,518.6L592.97,519.3L593.59,518.0L594.21,519.6L594.83,507.9L595.45,508.3L596.07,513.0L596.69,518.9L597.32,519.0L597.94,516.3L598.56,519.3L599.18,515.1L599.80,519.5L600.42,519.7L601.05,507.4L601.67,518.9L602.29,511.0L602.91,510.6L603.53,515.1L604.15,513.8L604.77,519.0L605.40,518.2L606.02,505.6L606.64,518.1L607.26,510.8L607.88,518.2L608.50,511.5L609.12,512.7L609.75,510.0L610.37,506.7L610.99,511.3L611.61,518.9L612.23,516.0L612.85,512.1L613.48,518.3L614.10,512.3L614.72,519.6L615.34,518.7L615.96,518.1L616.58,517.4L617.20,519.1L617.83,506.1L618.45,519.8L619.07,519.6L619.69,519.7L620.31,519.3L620.93,508.4L621.56,516.3L622.18,519.3L622.80,516.8L623.42,514.5L624.04,517.0L624.66,516.7L625.28,515.1L625.91,508.3L626.53,512.1L627.15,505.6L627.77,515.9L628.39,514.7L629.01,519.7L629.64,508.8L630.26,496.6L630.88,505.6L631.50,519.2L632.12,507.7L632.74,513.6L633.36,499.9L633.99,515.7L634.61,511.6L635.23,516.9L635.85,519.0L636.47,511.2L637.09,508.4L637.72,518.6L638.34,516.4L638.96,518.5L639.58,513.8L640.20,518.0L640.82,506.2L641.44,508.8L642.07,518.8L642.69,515.8L643.31,509.5L643.93,506.7L644.55,518.5L645.17,519.2L645.80,517.9L646.42,518.2L647.04,507.9L647.66,519.3L648.28,519.6L648.90,519.9L649.52,510.5L650.15,513.5L650.77,517.7L651.39,511.5L652.01,508.8L652.63,509.3L653.25,518.0L653.88,513.1L654.50,519.3L655.12,518.7L655.74,519.9L656.36,514.3L656.98,512.4L657.60,518.3L658.23,519.3L658.85,512.4L659.47,518.4L660.09,519.4L660.71,514.3L661.33,516.0L661.95,519.5L662.58,519.8L663.20,518.7L663.82,518.1L664.44,514.5L665.06,518.1L665.68,508.4L666.31,519.6L666.93,518.3L667.55,519.0L668.17,509.9L668.79,517.0L669.41,519.6L670.03,519.5L670.66,518.6L671.28,513.1L671.90,518.2L672.52,518.9L673.14,506.1L673.76,519.7L674.39,519.4L675.01,509.2L675.63,519.0L676.25,518.5L676.87,519.9L677.49,514.5L678.11,511.7L678.74,518.3L679.36,517.7L679.98,511.2L680.60,510.6L681.22,506.6L681.84,510.3L682.47,508.8L683.09,505.8L683.71,518.9L684.33,518.8L684.95,518.4L685.57,511.7L686.19,518.7L686.82,519.6L687.44,497.9L688.06,515.6L688.68,520.0L689.30,516.5L689.92,505.5L690.55,519.5L691.17,514.0L691.79,515.9L692.41,506.4L693.03,516.2L693.65,510.0L694.27,505.2L694.90,507.7L695.52,519.4L696.14,507.0L696.76,515.5L697.38,518.4L698.00,509.1L698.62,514.3L699.25,518.7L699.87,513.2L700.49,518.2L701.11,518.8L701.73,517.2L702.35,519.4L702.98,519.5L703.60,518.6L704.22,519.5L704.84,511.2L705.46,519.3L706.08,507.2L706.70,508.6L707.33,519.8L707.95,505.5L708.57,518.6L709.19,510.2L709.81,515.9L710.43,519.3L711.06,511.4L711.68,510.6L712.30,513.9L712.92,512.0L713.54,515.5L714.16,519.7L714.78,505.9L715.41,519.9L716.03,519.5L716.65,517.2L717.27,514.1L717.89,506.9L718.51,508.8L719.14,518.6L719.76,516.4L720.38,518.8L721.00,507.0L721.62,507.7L722.24,506.0L722.86,509.4L723.49,519.3L724.11,519.2L724.73,519.7L725.35,518.6L725.97,518.6L726.59,507.8L727.22,519.0L727.84,512.1L728.46,509.8L729.08,519.4L729.70,518.6L730.32,513.3L730.94,519.8L731.57,506.5L732.19,519.6L732.81,518.7L733.43,509.8L734.05,517.9L734.67,518.6L735.30,513.3L735.92,507.1L736.54,505.2L737.16,512.9L737.78,519.6L738.40,518.2L739.02,518.0L739.65,515.7L740.27,513.5L740.89,519.1L741.51,519.5L742.13,519.8L742.75,512.9L743.37,519.4L744.00,518.4L744.62,509.1L745.24,514.0L745.86,507.6L746.48,520.0L747.10,518.5L747.73,519.0L748.35,518.5L748.97,518.8L749.59,519.6L750.21,512.8L750.83,517.7L751.45,518.8L752.08,506.4L752.70,501.3L753.32,513.8L753.94,511.6L754.56,515.5L755.18,518.8L755.81,519.5L756.43,512.0L757.05,514.5L757.67,518.9L758.29,509.6L758.91,506.1L759.53,517.8L760.16,495.7L760.78,519.6L761.40,519.9L762.02,517.5L762.64,505.3L763.26,518.0L763.89,494.0L764.51,518.2L765.13,519.2L765.75,518.5L766.37,520.0L766.99,516.2L767.61,511.1L768.24,515.8L768.86,518.5L769.48,519.9L770.10,512.2L770.72,505.0L771.34,518.3L771.97,505.0L772.59,505.3L773.21,518.9L773.83,506.8L774.45,506.0L775.07,518.3L775.69,519.0L776.32,516.9L776.94,517.8L777.56,506.2L778.18,512.9L778.80,518.5L779.42,513.1L780.05,519.9L780.67,516.7L781.29,520.0L781.91,518.9L782.53,512.3L783.15,510.8L783.77,509.8L784.40,510.5L785.02,519.3L785.64,513.7L786.26,518.7L786.88,518.2L787.50,519.6L788.12,519.0L788.75,519.1L789.37,518.8L789.99,505.8L790.61,511.9L791.23,519.9L791.85,516.2L792.48,506.6L793.10,518.0L793.72,518.2L794.34,518.7L794.96,511.7L795.58,509.0L796.20,519.5L796.83,514.2L797.45,509.0L798.07,518.0L798.69,514.8L799.31,519.5L799.93,513.7L800.56,515.7L801.18,514.4L801.80,519.0L802.42,506.1L803.04,515.2L803.66,508.3L804.28,518.8L804.91,505.0L805.53,519.5L806.15,505.5L806.77,519.1L807.39,518.2L808.01,518.0L808.64,513.6L809.26,519.8L809.88,506.2L810.50,509.9L811.12,518.5L811.74,518.5L812.36,518.1L812.99,515.4L813.61,519.0L814.23,519.3L814.85,519.5L815.47,511.2L816.09,518.2L816.72,508.3L817.34,512.7L817.96,518.7L818.58,519.3L819.20,519.8L819.82,506.1L820.44,518.1L821.07,519.6L821.69,519.3L822.31,519.9L822.93,510.8L823.55,518.6L824.17,518.9L824.80,508.9L825.42,509.2L826.04,518.1L826.66,513.0L827.28,513.4L827.90,507.8L828.52,507.7L829.15,518.9L829.77,518.7L830.39,512.7L831.01,519.9L831.63,519.7L832.25,509.1L832.88,509.2L833.50,512.3L834.12,518.5L834.74,512.1L835.36,518.2L835.98,518.8L836.60,513.5L837.23,519.3L837.85,517.5L838.47,515.5L839.09,515.2L839.71,518.6L840.33,519.6L840.95,498.1L841.58,507.0L842.20,519.0L842.82,519.9L843.44,518.2L844.06,518.4L844.68,518.8L845.31,503.6L845.93,508.1L846.55,507.6L847.17,512.8L847.79,519.8L848.41,511.3L849.03,518.6L849.66,517.6L850.28,518.1L850.90,518.0L851.52,519.0L852.14,512.9L852.76,516.5L853.39,518.5L854.01,516.3L854.63,512.2L855.25,508.1L855.87,503.3L856.49,518.6L857.11,515.7L857.74,519.4L858.36,516.0L858.98,517.7L859.60,518.0L860.22,517.4L860.84,518.7L861.47,509.0L862.09,515.7L862.71,515.4L863.33,508.6L863.95,518.3L864.57,518.8L865.19,514.8L865.82,517.7L866.44,512.2L867.06,518.4L867.68,518.3L868.30,506.0L868.92,518.3L869.55,519.8L870.17,518.2L870.79,506.4L871.41,508.2L872.03,519.0L872.65,498.7L873.27,513.7L873.90,519.4L874.52,520.0L875.14,519.9L875.76,518.8L876.38,518.4L877.00,507.0L877.62,517.6L878.25,519.5L878.87,518.3L879.49,518.4L880.11,518.8L880.73,517.1L881.35,506.5L881.98,517.8L882.60,516.5L883.22,518.0L883.84,519.3L884.46,510.0L885.08,517.7L885.70,519.4L886.33,518.4L886.95,519.2L887.57,518.5L888.19,518.0L888.81,518.2L889.43,508.1L890.06,519.3L890.68,518.2L891.30,518.8L891.92,513.3L892.54,519.4L893.16,506.4L893.78,519.5L894.41,510.3L895.03,519.2L895.65,519.6L896.27,513.5L896.89,511.3L897.51,518.7L898.14,508.7L898.76,511.3L899.38,519.1L900.00,519.2L900.62,518.8L901.24,514.6L901.86,505.2L902.49,519.6L903.11,505.2L903.73,506.6L904.35,520.0L904.97,508.6L905.59,519.6L906.22,519.2L906.84,519.4L907.46,512.8L908.08,512.3L908.70,519.2L909.32,518.1L909.94,519.2L910.57,509.0L911.19,511.8L911.81,500.5L912.43,516.4L913.05,512.9L913.67,518.8L914.30,508.4L914.92,514.8L915.54,519.8L916.16,519.5L916.78,515.8L917.40,518.7L918.02,514.8L918.65,510.8L919.27,508.7L919.89,515.3L920.51,516.4L921.13,517.4L921.75,519.3L922.38,510.6L923.00,509.3L923.62,507.0L924.24,514.6L924.86,518.5L925.48,501.1L926.10,519.9L926.73,515.9L927.35,519.9L927.97,498.8L928.59,518.0L929.21,517.5L929.83,512.3L930.45,518.8L931.08,514.1L931.70,520.0L932.32,519.8L932.94,511.9L933.56,518.8L934.18,516.7L934.81,514.7L935.43,519.7L936.05,518.1L936.67,519.7L937.29,518.9L937.91,513.1L938.53,518.8L939.16,503.7L939.78,505.1L940.40,518.6L941.02,518.3L941.64,505.7L942.26,518.9L942.89,518.2L943.51,519.0L944.13,518.7L944.75,512.2L945.37,514.7L945.99,519.7L946.61,518.2L947.24,515.4L947.86,514.0L948.48,513.3L949.10,518.8L949.72,517.3L950.34,505.2L950.97,519.5L951.59,518.4L952.21,505.2L952.83,507.5L953.45,519.5L954.07,515.8L954.69,518.8L955.32,510.3L955.94,519.2L956.56,516.8L957.18,519.2L957.80,515.3L958.42,517.7L959.05,514.1L959.67,519.3L960.29,519.3L960.91,512.3L961.53,519.2L962.15,518.2L962.77,518.9L963.40,518.1L964.02,518.6L964.64,519.9L965.26,511.8L965.88,518.2L966.50,518.4L967.12,518.1L967.75,518.9L968.37,518.4L968.99,517.7L969.61,518.5L970.23,506.8L970.85,511.9L971.48,515.4L972.10,516.3L972.72,516.2L973.34,518.6L973.96,511.9L974.58,507.2L975.20,517.0L975.83,518.3L976.45,519.9L977.07,517.7L977.69,511.1L978.31,519.1L978.93,496.2L979.56,515.6L980.18,519.0L980.80,510.5L981.42,513.2L982.04,519.2L982.66,518.3L983.28,514.6L983.91,519.4L984.53,519.0L985.15,519.6L985.77,518.1L986.39,507.6L987.01,509.2L987.64,518.5L988.26,510.4M94.5,520.3L989.5,505.5M127.31666666666666,521H169.08333333333331" stroke="#009e73" stroke-width="1" fill="none" shape-rendering="crispEdges"/><rect x="125" y="477" width="1" height="35" fill="#009e73"/><rect x="193" y="491" width="1" height="21" fill="#009e73"/><rect x="203" y="470" width="1" height="42" fill="#009e73"/><rect x="266" y="476" width="1" height="36" fill="#009e73"/><rect x="319" y="482" width="1" height="30" fill="#009e73"/><rect x="389" y="495" width="1" height="17" fill="#009e73"/><rect x="395" y="491" width="1" height="21" fill="#009e73"/><rect x="455" y="459" width="1" height="53" fill="#009e73"/><rect x="570" y="491" width="1" height="21" fill="#009e73"/><rect x="643" y="489" width="1" height="23" fill="#009e73"/><rect x="662" y="491" width="1" height="21" fill="#009e73"/><rect x="706" y="470" width="1" height="42" fill="#009e73"/><rect x="758" y="483" width="1" height="29" fill="#009e73"/><rect x="769" y="461" width="1" height="51" fill="#009e73"/><rect x="895" y="476" width="1" height="36" fill="#009e73"/><rect x="957" y="476" width="1" height="36" fill="#009e73"/><rect x="420" y="480" width="1" height="32" fill="#009e73"/><rect x="600" y="498" width="1" height="14" fill="#009e73"/><rect x="530" y="497" width="1" height="15" fill="#009e73"/><path d="M94.50,508.1L95.12,503.8L95.74,509.1L96.36,518.0L96.99,514.1L97.61,515.5L98.23,504.6L98.85,519.7L99.47,515.4L100.09,504.5L100.72,515.8L101.34,503.8L101.96,509.5L102.58,504.8L103.20,504.0L103.82,506.1L104.44,504.5L105.07,504.3L105.69,508.3L106.31,506.4L106.93,507.7L107.55,510.8L108.17,504.0L108.80,504.1L109.42,509.1L110.04,504.1L110.66,515.7L111.28,509.1L111.90,504.4L112.52,504.7L113.15,504.3L113.77,518.7L114.39,513.7L115.01,504.3L115.63,514.2L116.25,504.5L116.88,503.8L117.50,504.7L118.12,513.8L118.74,504.9L119.36,504.4L119.98,513.8L120.60,509.4L121.23,504.6L121.85,512.8L122.47,508.7L123.09,510.6L123.71,503.9L124.33,504.9L124.95,502.3L125.58,503.9L126.20,504.9L126.82,506.7M169.08,504.0L169.70,504.0L170.33,504.8L170.95,504.6L171.57,516.4L172.19,504.1L172.81,519.5L173.43,506.0L174.06,509.7L174.68,514.2L175.30,510.6L175.92,504.9L176.54,504.8L177.16,500.0L177.78,504.6L178.41,504.4L179.03,516.2L179.65,504.6L180.27,516.4L180.89,504.6L181.51,518.5L182.14,505.0L182.76,504.0L183.38,504.6L184.00,504.3L184.62,516.5L185.24,511.2L185.86,506.7L186.49,513.2L187.11,504.9L187.73,504.7L188.35,504.2L188.97,513.8L189.59,504.1L190.22,510.8L190.84,504.3L191.46,519.5L192.08,509.5L192.70,506.5L193.32,519.0L193.94,513.3L194.57,502.6L195.19,509.5L195.81,504.3L196.43,504.6L197.05,501.5L197.67,500.9L198.30,504.4L198.92,516.6L199.54,515.3L200.16,501.1L200.78,504.2L201.40,511.2L202.02,503.9L202.65,503.9L203.27,503.8L203.89,518.9L204.51,504.5L205.13,504.9L205.75,504.9L206.38,517.2L207.00,511.1L207.62,506.5L208.24,507.2L208.86,514.7L209.48,504.2L210.10,508.1L210.73,504.1L211.35,504.8L211.97,504.5L212.59,504.9L213.21,508.9L213.83,515.5L214.45,507.4L215.08,504.3L215.70,511.8L216.32,506.1L216.94,501.7L217.56,513.1L218.18,504.8L218.81,503.9L219.43,517.0L220.05,511.6L220.67,503.8L221.29,504.5L221.91,504.3L222.53,504.7L223.16,503.9L223.78,504.7L224.40,518.0L225.02,504.9L225.64,516.6L226.26,504.9L226.89,508.3L227.51,513.4L228.13,503.9L228.75,504.5L229.37,517.5L229.99,500.1L230.61,509.2L231.24,509.1L231.86,519.1L232.48,504.3L233.10,504.3L233.72,504.3L234.34,508.8L234.97,503.1L235.59,504.7L236.21,516.5L236.83,504.7L237.45,503.8L238.07,518.3L238.69,505.0L239.32,504.5L239.94,506.4L240.56,515.7L241.18,517.4L241.80,503.9L242.42,504.8L243.05,510.5L243.67,510.5L244.29,512.1L244.91,503.9L245.53,503.8L246.15,517.6L246.77,503.9L247.40,504.2L248.02,508.9L248.64,512.5L249.26,508.2L249.88,504.5L250.50,515.8L251.12,504.0L251.75,503.9L252.37,514.9L252.99,504.6L253.61,516.4L254.23,516.1L254.85,504.3L255.48,504.6L256.10,504.9L256.72,503.8L257.34,514.0L257.96,504.3L258.58,519.8L259.20,511.9L259.83,504.4L260.45,504.8L261.07,514.9L261.69,517.7L262.31,502.4L262.93,504.6L263.56,504.9L264.18,519.3L264.80,504.2L265.42,504.7L266.04,504.4L266.66,508.0L267.28,504.4L267.91,504.8L268.53,503.8L269.15,504.4L269.77,504.2L270.39,504.5L271.01,513.1L271.64,514.2L272.26,503.9L272.88,504.7L273.50,504.6L274.12,506.5L274.74,504.5L275.36,501.8L275.99,501.0L276.61,507.4L277.23,503.9L277.85,504.1L278.47,504.7L279.09,519.5L279.72,510.4L280.34,514.0L280.96,504.6L281.58,503.4L282.20,504.8L282.82,504.5L283.44,504.8L284.07,504.1L284.69,513.8L285.31,504.6L285.93,503.9L286.55,504.4L287.17,504.2L287.80,504.2L288.42,499.6L289.04,516.9L289.66,506.5L290.28,504.3L290.90,519.4L291.52,512.3L292.15,510.9L292.77,504.6L293.39,504.2L294.01,512.7L294.63,503.2L295.25,512.3L295.88,517.5L296.50,504.5L297.12,517.8L297.74,503.1L298.36,508.8L298.98,502.4L299.60,502.8L300.23,514.0L300.85,507.2L301.47,504.8L302.09,503.9L302.71,518.7L303.33,508.3L303.95,503.9L304.58,503.0L305.20,503.8L305.82,503.8L306.44,504.4L307.06,512.9L307.68,504.8L308.31,504.3L308.93,504.2L309.55,504.8L310.17,511.9L310.79,503.8L311.41,504.9L312.03,513.6L312.66,504.1L313.28,504.1L313.90,511.7L314.52,504.5L315.14,504.4L315.76,503.8L316.39,519.8L317.01,503.9L317.63,504.7L318.25,504.8L318.87,504.7L319.49,505.0L320.11,512.3L320.74,510.5L321.36,508.0L321.98,504.8L322.60,513.9L323.22,504.4L323.84,504.6L324.47,504.9L325.09,513.4L325.71,503.9L326.33,504.0L326.95,504.5L327.57,504.2L328.19,504.0L328.82,504.5L329.44,508.4L330.06,516.8L330.68,518.7L331.30,504.5L331.92,504.8L332.55,504.4L333.17,518.3L333.79,519.6L334.41,506.9L335.03,502.2L335.65,517.7L336.27,516.1L336.90,512.3L337.52,509.4L338.14,504.1L338.76,507.2L339.38,504.2L340.00,516.0L340.62,504.0L341.25,515.2L341.87,507.6L342.49,508.8L343.11,517.8L343.73,506.0L344.35,503.9L344.98,503.9L345.60,519.2L346.22,502.3L346.84,503.9L347.46,504.5L348.08,507.9L348.70,504.9L349.33,517.4L349.95,504.7L350.57,509.9L351.19,504.2L351.81,516.0L352.43,503.2L353.06,509.4L353.68,514.9L354.30,504.2L354.92,517.6L355.54,504.9L356.16,503.9L356.78,512.2L357.41,504.3L358.03,504.6L358.65,504.2L359.27,504.8L359.89,504.5L360.51,510.8L361.14,515.2L361.76,507.6L362.38,507.3L363.00,503.9L363.62,504.8L364.24,503.9L364.86,504.0L365.49,504.1L366.11,504.5L366.73,504.6L367.35,503.9L367.97,504.6L368.59,506.3L369.22,504.3L369.84,503.8L370.46,508.6L371.08,504.3L371.70,500.2L372.32,506.1L372.94,508.0L373.57,504.4L374.19,504.7L374.81,504.9L375.43,504.2L376.05,504.4L376.67,518.2L377.30,510.2L377.92,504.5L378.54,504.3L379.16,506.3L379.78,514.4L380.40,503.9L381.02,504.9L381.65,504.3L382.27,504.2L382.89,504.5L383.51,508.2L384.13,504.5L384.75,516.0L385.38,504.1L386.00,504.2L386.62,506.8L387.24,508.5L387.86,519.8L388.48,518.6L389.10,503.9L389.73,509.5L390.35,504.2L390.97,504.1L391.59,504.0L392.21,518.4L392.83,499.9L393.45,503.9L394.08,504.9L394.70,513.1L395.32,518.3L395.94,504.0L396.56,504.2L397.18,499.7L397.81,515.6L398.43,504.7L399.05,511.7L399.67,514.6L400.29,502.3L400.91,503.8L401.53,514.8L402.16,504.6L402.78,518.7L403.40,519.0L404.02,517.5L404.64,511.3L405.26,511.0L405.89,504.6L406.51,504.2L407.13,508.8L407.75,509.4L408.37,504.8L408.99,504.2L409.61,504.9L410.24,507.0L410.86,503.8L411.48,504.9L412.10,502.2L412.72,507.1L413.34,515.5L413.97,505.0L414.59,519.8L415.21,504.4L415.83,504.1L416.45,504.5L417.07,510.4L417.69,504.1L418.32,501.2L418.94,504.0L419.56,504.2L420.18,507.3L420.80,504.6L421.42,509.3L422.05,517.8L422.67,515.0L423.29,504.6L423.91,504.4L424.53,512.8L425.15,518.5L425.77,504.2L426.40,516.4L427.02,513.7L427.64,515.1L428.26,508.4L428.88,507.3L429.50,504.0L430.12,507.8L430.75,504.4L431.37,501.1L431.99,504.1L432.61,502.0L433.23,503.3L433.85,504.6L434.48,519.7L435.10,504.7L435.72,516.0L436.34,517.6L436.96,504.3L437.58,504.9L438.20,508.8L438.83,504.3L439.45,507.2L440.07,503.8L440.69,504.3L441.31,507.2L441.93,502.8L442.56,518.5L443.18,505.0L443.80,519.2L444.42,504.8L445.04,514.7L445.66,513.3L446.28,517.7L446.91,500.8L447.53,501.1L448.15,513.6L448.77,519.5L449.39,504.8L450.01,504.0L450.64,504.0L451.26,509.6L451.88,504.3L452.50,504.4L453.12,504.4L453.74,504.5L454.36,504.7L454.99,505.0L455.61,504.2L456.23,504.4L456.85,513.0L457.47,517.8L458.09,504.9L458.72,515.9L459.34,504.1L459.96,504.2L460.58,504.0L461.20,517.6L461.82,504.1L462.44,501.5L463.07,504.3L463.69,505.0L464.31,504.6L464.93,508.7L465.55,509.7L466.17,504.7L466.80,504.1L467.42,508.5L468.04,508.2L468.66,504.8L469.28,506.3L469.90,504.3L470.52,506.1L471.15,503.9L471.77,509.4L472.39,512.4L473.01,503.9L473.63,504.6L474.25,519.8L474.88,503.8L475.50,519.0L476.12,502.5L476.74,504.0L477.36,517.9L477.98,501.7L478.60,504.8L479.23,519.7L479.85,503.9L480.47,499.8L481.09,504.3L481.71,504.8L482.33,504.0L482.95,510.5L483.58,504.8L484.20,509.2L484.82,504.8L485.44,513.5L486.06,504.3L486.68,500.5L487.31,504.6L487.93,504.1L488.55,504.6L489.17,512.9L489.79,510.2L490.41,504.2L491.03,504.6L491.66,504.5L492.28,515.1L492.90,504.2L493.52,503.9L494.14,508.7L494.76,503.9L495.39,512.4L496.01,512.2L496.63,503.9L497.25,503.9L497.87,507.2L498.49,504.2L499.11,502.1L499.74,504.1L500.36,504.7L500.98,504.9L501.60,516.5L502.22,504.1L502.84,504.1L503.47,504.2L504.09,501.9L504.71,509.4L505.33,500.4L505.95,504.6L506.57,518.8L507.19,504.3L507.82,509.4L508.44,507.1L509.06,511.1L509.68,504.6L510.30,504.0L510.92,511.7L511.55,504.7L512.17,511.7L512.79,515.9L513.41,511.2L514.03,505.0L514.65,504.8L515.27,504.1L515.90,509.7L516.52,504.0L517.14,506.8L517.76,517.1L518.38,503.9L519.00,504.8L519.62,504.1L520.25,503.9L520.87,503.8L521.49,504.9L522.11,516.8L522.73,501.9L523.35,504.9L523.98,516.0L524.60,504.1L525.22,504.2L525.84,504.6L526.46,504.5L527.08,511.5L527.70,507.5L528.33,516.7L528.95,509.6L529.57,504.1L530.19,503.9L530.81,504.0L531.43,511.9L532.06,504.9L532.68,510.9L533.30,504.9L533.92,504.7L534.54,513.5L535.16,504.0L535.78,504.5L536.41,510.8L537.03,502.5L537.65,504.2L538.27,518.2L538.89,504.3L539.51,504.6L540.14,504.3L540.76,516.4L541.38,515.9L542.00,513.7L542.62,504.8L543.24,518.9L543.86,504.4L544.49,504.5L545.11,506.1L545.73,504.0L546.35,504.7L546.97,504.3L547.59,504.6L548.22,511.7L548.84,510.4L549.46,504.9L550.08,515.8L550.70,504.3L551.32,514.8L551.94,504.7L552.57,504.6L553.19,518.6L553.81,518.5L554.43,511.4L555.05,518.8L555.67,503.8L556.30,509.7L556.92,503.9L557.54,507.3L558.16,502.3L558.78,504.6L559.40,509.3L560.02,510.9L560.65,504.7L561.27,519.2L561.89,502.7L562.51,504.5L563.13,504.2L563.75,505.0L564.38,518.0L565.00,504.0L565.62,503.9L566.24,504.7L566.86,504.1L567.48,504.3L568.10,519.3L568.73,519.8L569.35,501.4L569.97,504.4L570.59,517.4L571.21,504.4L571.83,505.0L572.45,518.8L573.08,505.0L573.70,507.9L574.32,504.5L574.94,514.2L575.56,507.7L576.18,519.3L576.81,504.2L577.43,504.0L578.05,505.0L578.67,504.2L579.29,503.8L579.91,518.3L580.53,517.6L581.16,515.3L581.78,516.2L582.40,508.1L583.02,504.3L583.64,504.1L584.26,516.7L584.89,504.5L585.51,504.3L586.13,510.5L586.75,517.9L587.37,507.4L587.99,504.6L588.61,507.2L589.24,511.6L589.86,504.9L590.48,504.8L591.10,504.0L591.72,504.8L592.34,515.7L592.97,507.3L593.59,503.9L594.21,505.0L594.83,504.6L595.45,511.2L596.07,504.3L596.69,504.7L597.32,511.6L597.94,504.2L598.56,517.0L599.18,503.3L599.80,510.7L600.42,512.8L601.05,504.2L601.67,504.2L602.29,507.7L602.91,511.5L603.53,504.5L604.15,518.0L604.77,510.6L605.40,511.8L606.02,504.1L606.64,516.9L607.26,504.7L607.88,516.5L608.50,507.3L609.12,504.4L609.75,504.1L610.37,507.2L610.99,510.6L611.61,508.3L612.23,504.3L612.85,504.6L613.48,504.6L614.10,504.2L614.72,515.5L615.34,504.8L615.96,504.6L616.58,504.1L617.20,504.3L617.83,500.8L618.45,510.1L619.07,504.8L619.69,519.0L620.31,504.7L620.93,504.1L621.56,513.1L622.18,508.9L622.80,518.9L623.42,517.4L624.04,504.1L624.66,504.5L625.28,504.6L625.91,511.8L626.53,508.6L627.15,503.2L627.77,504.1L628.39,504.2L629.01,504.7L629.64,509.5L630.26,517.0L630.88,504.7L631.50,504.3L632.12,504.7L632.74,515.3L633.36,503.9L633.99,504.4L634.61,504.6L635.23,507.8L635.85,503.9L636.47,508.5L637.09,519.5L637.72,504.8L638.34,504.8L638.96,504.3L639.58,512.2L640.20,503.9L640.82,503.8L641.44,504.0L642.07,516.4L642.69,506.9L643.31,512.1L643.93,517.2L644.55,504.2L645.17,504.9L645.80,504.8L646.42,504.0L647.04,504.6L647.66,504.2L648.28,504.0L648.90,504.1L649.52,517.0L650.15,504.6L650.77,508.2L651.39,509.7L652.01,503.3L652.63,504.5L653.25,504.9L653.88,504.5L654.50,515.9L655.12,504.5L655.74,504.9L656.36,504.7L656.98,504.9L657.60,504.3L658.23,501.4L658.85,504.5L659.47,504.2L660.09,506.8L660.71,501.0L661.33,512.9L661.95,514.4L662.58,504.1L663.20,510.1L663.82,504.9L664.44,505.0L665.06,503.8L665.68,504.8L666.31,504.2L666.93,504.3L667.55,503.8L668.17,513.7L668.79,515.8L669.41,504.8L670.03,504.8L670.66,504.2L671.28,504.5L671.90,504.1L672.52,507.4L673.14,510.9L673.76,503.9L674.39,510.8L675.01,504.0L675.63,510.0L676.25,504.3L676.87,504.7L677.49,504.9L678.11,504.2L678.74,504.9L679.36,504.3L679.98,504.1L680.60,503.9L681.22,504.9L681.84,504.3L682.47,504.5L683.09,505.0L683.71,504.9L684.33,506.9L684.95,506.9L685.57,516.3L686.19,517.4L686.82,504.3L687.44,503.9L688.06,504.7L688.68,516.6L689.30,501.7L689.92,504.5L690.55,503.8L691.17,504.6L691.79,510.8L692.41,503.9L693.03,518.4L693.65,519.3L694.27,502.8L694.90,507.6L695.52,504.2L696.14,504.5L696.76,519.0L697.38,504.2L698.00,504.0L698.62,504.0L699.25,516.7L699.87,519.5L700.49,504.7L701.11,504.7L701.73,504.3L702.35,512.8L702.98,504.9L703.60,504.3L704.22,506.6L704.84,504.6L705.46,506.8L706.08,515.7L706.70,518.3L707.33,504.9L707.95,510.4L708.57,504.6L709.19,504.5L709.81,503.9L710.43,504.4L711.06,504.7L711.68,504.2L712.30,516.1L712.92,518.2L713.54,504.8L714.16,509.3L714.78,504.7L715.41,504.6L716.03,504.3L716.65,514.0L717.27,519.2L717.89,504.6L718.51,514.7L719.14,504.0L719.76,509.0L720.38,516.8L721.00,504.6L721.62,504.4L722.24,503.8L722.86,504.5L723.49,504.7L724.11,509.6L724.73,504.7L725.35,515.1L725.97,505.0L726.59,503.9L727.22,508.3L727.84,508.4L728.46,502.8L729.08,504.0L729.70,504.3L730.32,507.8L730.94,510.6L731.57,504.5L732.19,513.5L732.81,508.0L733.43,504.4L734.05,504.2L734.67,509.8L735.30,503.8L735.92,503.9L736.54,504.6L737.16,513.4L737.78,512.7L738.40,504.4L739.02,504.8L739.65,504.8L740.27,500.0L740.89,503.9L741.51,504.2L742.13,510.8L742.75,500.6L743.37,504.5L744.00,501.4L744.62,504.8L745.24,506.1L745.86,518.7L746.48,503.9L747.10,520.0L747.73,513.8L748.35,501.2L748.97,515.9L749.59,508.0L750.21,504.9L750.83,504.8L751.45,513.5L752.08,514.3L752.70,517.3L753.32,506.3L753.94,515.7L754.56,512.7L755.18,507.4L755.81,504.2L756.43,504.5L757.05,504.5L757.67,505.0L758.29,510.8L758.91,504.9L759.53,513.4L760.16,514.7L760.78,500.7L761.40,513.3L762.02,504.6L762.64,509.7L763.26,519.7L763.89,504.8L764.51,504.4L765.13,504.3L765.75,505.0L766.37,503.9L766.99,504.7L767.61,517.9L768.24,510.4L768.86,516.1L769.48,508.1L770.10,503.9L770.72,504.5L771.34,507.6L771.97,509.6L772.59,511.8L773.21,503.8L773.83,503.9L774.45,504.6L775.07,504.9L775.69,504.8L776.32,504.1L776.94,515.0L777.56,504.0L778.18,503.9L778.80,504.5L779.42,519.2L780.05,504.4L780.67,514.0L781.29,504.3L781.91,515.4L782.53,504.4L783.15,504.2L783.77,505.0L784.40,503.8L785.02,504.3L785.64,506.5L786.26,515.0L786.88,509.8L787.50,511.8L788.12,517.4L788.75,503.9L789.37,504.4L789.99,504.8L790.61,507.9L791.23,504.4L791.85,511.4L792.48,505.0L793.10,504.0L793.72,504.3L794.34,507.1L794.96,504.4L795.58,503.9L796.20,504.8L796.83,503.9L797.45,506.1L798.07,504.9L798.69,504.4L799.31,517.1L799.93,504.8L800.56,514.1L801.18,514.4L801.80,504.4L802.42,504.9L803.04,504.6L803.66,504.6L804.28,504.5L804.91,512.5L805.53,504.4L806.15,504.5L806.77,503.9L807.39,504.8L808.01,508.0L808.64,504.5L809.26,502.1L809.88,504.5L810.50,504.4L811.12,504.1L811.74,503.9L812.36,512.8L812.99,504.6L813.61,504.5L814.23,503.5L814.85,517.3L815.47,504.7L816.09,504.6L816.72,504.4L817.34,504.9L817.96,513.0L818.58,517.8L819.20,504.5L819.82,504.6L820.44,505.0L821.07,516.6L821.69,504.8L822.31,518.0L822.93,507.1L823.55,504.3L824.17,508.0L824.80,502.1L825.42,504.3L826.04,513.7L826.66,504.2L827.28,515.9L827.90,503.9L828.52,518.7L829.15,504.1L829.77,503.9L830.39,504.8L831.01,515.6L831.63,503.8L832.25,504.3L832.88,504.9L833.50,504.5L834.12,508.6L834.74,515.9L835.36,504.3L835.98,508.6L836.60,506.5L837.23,515.2L837.85,504.4L838.47,507.1L839.09,504.7L839.71,504.7L840.33,517.5L840.95,504.6L841.58,503.9L842.20,514.3L842.82,515.7L843.44,507.4L844.06,504.8L844.68,504.3L845.31,504.6L845.93,505.0L846.55,503.9L847.17,504.1L847.79,504.2L848.41,515.9L849.03,504.5L849.66,504.4L850.28,505.0L850.90,516.7L851.52,512.6L852.14,518.8L852.76,508.7L853.39,517.9L854.01,504.5L854.63,504.7L855.25,504.1L855.87,518.3L856.49,513.3L857.11,517.5L857.74,517.7L858.36,505.0L858.98,504.4L859.60,504.4L860.22,512.5L860.84,504.8L861.47,504.6L862.09,519.4L862.71,517.7L863.33,516.4L863.95,512.3L864.57,513.6L865.19,504.2L865.82,519.9L866.44,504.7L867.06,512.4L867.68,507.6L868.30,505.0L868.92,509.6L869.55,507.7L870.17,504.6L870.79,518.8L871.41,504.6L872.03,503.0L872.65,504.4L873.27,504.1L873.90,504.9L874.52,511.0L875.14,504.9L875.76,504.2L876.38,504.9L877.00,510.8L877.62,515.6L878.25,509.7L878.87,510.0L879.49,504.7L880.11,503.9L880.73,504.0L881.35,504.8L881.98,504.0L882.60,503.8L883.22,506.6L883.84,513.3L884.46,503.8L885.08,516.5L885.70,504.7L886.33,507.6L886.95,504.7L887.57,515.9L888.19,504.9L888.81,511.9L889.43,518.5L890.06,515.9L890.68,500.0L891.30,503.8L891.92,500.2L892.54,513.6L893.16,504.4L893.78,513.1L894.41,500.3L895.03,503.9L895.65,502.6L896.27,504.5L896.89,505.0L897.51,509.9L898.14,504.9L898.76,503.9L899.38,504.2L900.00,504.4L900.62,500.2L901.24,514.5L901.86,504.5L902.49,519.9L903.11,504.8L903.73,504.9L904.35,500.3L904.97,504.2L905.59,515.4L906.22,507.7L906.84,519.0L907.46,508.7L908.08,515.4L908.70,504.8L909.32,504.2L909.94,504.9L910.57,504.3L911.19,504.7L911.81,504.9L912.43,519.9L913.05,504.3L913.67,514.8L914.30,506.3L914.92,519.5L915.54,504.6L916.16,518.9L916.78,503.9L917.40,504.3L918.02,504.1L918.65,504.7L919.27,504.5L919.89,512.8L920.51,503.9L921.13,504.1L921.75,504.2L922.38,504.1L923.00,509.1L923.62,506.4L924.24,505.0L924.86,504.9L925.48,502.4L926.10,504.2L926.73,504.3L927.35,504.3L927.97,504.9L928.59,519.9L929.21,504.6L929.83,504.8L930.45,516.9L931.08,504.3L931.70,503.9L932.32,504.3L932.94,504.4L933.56,504.9L934.18,504.2L934.81,503.1L935.43,519.8L936.05,510.8L936.67,504.6L937.29,509.5L937.91,511.0L938.53,504.2L939.16,504.5L939.78,518.7L940.40,504.8L941.02,509.7L941.64,504.2L942.26,506.7L942.89,506.8L943.51,504.5L944.13,511.7L944.75,511.0L945.37,503.9L945.99,510.2L946.61,504.0L947.24,504.2L947.86,504.7L948.48,504.4L949.10,515.6L949.72,513.5L950.34,513.1L950.97,518.0L951.59,510.7L952.21,513.6L952.83,506.8L953.45,504.9L954.07,504.4L954.69,504.3L955.32,508.0L955.94,503.9L956.56,506.7L957.18,504.3L957.80,504.7L958.42,506.9L959.05,504.3L959.67,506.3L960.29,504.8L960.91,504.2L961.53,518.5L962.15,503.9L962.77,517.5L963.40,504.5L964.02,516.5L964.64,504.8L965.26,515.9L965.88,516.2L966.50,514.8L967.12,504.1L967.75,503.8L968.37,507.1L968.99,513.3L969.61,507.9L970.23,504.3L970.85,504.7L971.48,514.6L972.10,503.9L972.72,516.7L973.34,504.8L973.96,504.9L974.58,518.6L975.20,514.0L975.83,500.1L976.45,504.8L977.07,504.1L977.69,504.5L978.31,504.9L978.93,501.2L979.56,504.1L980.18,504.1L980.80,504.1L981.42,518.7L982.04,500.3L982.66,515.7L983.28,504.4L983.91,508.6L984.53,517.3L985.15,516.5L985.77,511.6L986.39,511.3L987.01,519.6L987.64,503.9L988.26,504.7" stroke="#56b4e9" stroke-width="1" fill="none" shape-rendering="crispEdges"/><rect x="288" y="496" width="1" height="14" fill="#56b4e9"/><rect x="377" y="482" width="1" height="28" fill="#56b4e9"/><rect x="675" y="481" width="1" height="29" fill="#56b4e9"/><rect x="757" y="487" width="1" height="23" fill="#56b4e9"/><rect x="789" y="485" width="1" height="25" fill="#56b4e9"/><rect x="797" y="491" width="1" height="19" fill="#56b4e9"/><rect x="804" y="487" width="1" height="23" fill="#56b4e9"/><rect x="819" y="493" width="1" height="17" fill="#56b4e9"/><rect x="840" y="488" width="1" height="22" fill="#56b4e9"/><rect x="590" y="500" width="1" height="10" fill="#56b4e9"/><rect x="460" y="500" width="1" height="10" fill="#56b4e9"/><rect x="404" y="303" width="1" height="218" fill="#9400d3"/><rect x="404" y="411" width="2" height="110" fill="#9400d3"/><rect x="417" y="303" width="1" height="218" fill="#9400d3"/><rect x="417" y="396" width="2" height="125" fill="#9400d3"/><rect x="707" y="303" width="1" height="218" fill="#9400d3"/><rect x="707" y="411.5" width="2" height="109.5" fill="#9400d3"/><rect x="978" y="303" width="1" height="218" fill="#9400d3"/><rect x="978" y="411" width="2" height="110" fill="#9400d3"/><rect x="411.5" y="418.5" width="12" height="12" fill="none" stroke="#e69f00" stroke-width="1.2"/><rect x="163.0" y="468.0" width="13" height="13" fill="#f0e442" shape-rendering="crispEdges"/><rect x="398.0" y="468.0" width="13" height="13" fill="#f0e442" shape-rendering="crispEdges"/><rect x="411.0" y="468.0" width="13" height="13" fill="#f0e442" shape-rendering="crispEdges"/><rect x="789.0" y="468.0" width="13" height="13" fill="#f0e442" shape-rendering="crispEdges"/><rect x="862.0" y="468.0" width="13" height="13" fill="#f0e442" shape-rendering="crispEdges"/><rect x="963.0" y="468.0" width="13" height="13" fill="#f0e442" shape-rendering="crispEdges"/><circle cx="95.5" cy="485.5" r="5" fill="none" stroke="#0072b2" stroke-width="1.2"/><path d="M95.5,479.0V480.5M95.5,490.5V492.0M89.0,485.5H90.5M100.5,485.5H102.0" stroke="#0072b2" stroke-width="1.1" fill="none"/><circle cx="128.2" cy="486.5" r="5" fill="none" stroke="#0072b2" stroke-width="1.2"/><path d="M128.2,480.0V481.5M128.2,491.5V493.0M121.69999999999999,486.5H123.19999999999999M133.2,486.5H134.7" stroke="#0072b2" stroke-width="1.1" fill="none"/><circle cx="170.5" cy="488.4" r="5" fill="none" stroke="#0072b2" stroke-width="1.2"/><path d="M170.5,481.9V483.4M170.5,493.4V494.9M164.0,488.4H165.5M175.5,488.4H177.0" stroke="#0072b2" stroke-width="1.1" fill="none"/><circle cx="203.1" cy="486.3" r="5" fill="none" stroke="#0072b2" stroke-width="1.2"/><path d="M203.1,479.8V481.3M203.1,491.3V492.8M196.6,486.3H198.1M208.1,486.3H209.6" stroke="#0072b2" stroke-width="1.1" fill="none"/><circle cx="207.8" cy="488.4" r="5" fill="none" stroke="#0072b2" stroke-width="1.2"/><path d="M207.8,481.9V483.4M207.8,493.4V494.9M201.3,488.4H202.8M212.8,488.4H214.3" stroke="#0072b2" stroke-width="1.1" fill="none"/><circle cx="240.2" cy="487.5" r="5" fill="none" stroke="#0072b2" stroke-width="1.2"/><path d="M240.2,481.0V482.5M240.2,492.5V494.0M233.7,487.5H235.2M245.2,487.5H246.7" stroke="#0072b2" stroke-width="1.1" fill="none"/><circle cx="244.8" cy="488.4" r="5" fill="none" stroke="#0072b2" stroke-width="1.2"/><path d="M244.8,481.9V483.4M244.8,493.4V494.9M238.3,488.4H239.8M249.8,488.4H251.3" stroke="#0072b2" stroke-width="1.1" fill="none"/><circle cx="276.9" cy="488.5" r="5" fill="none" stroke="#0072b2" stroke-width="1.2"/><path d="M276.9,482.0V483.5M276.9,493.5V495.0M270.4,488.5H271.9M281.9,488.5H283.4" stroke="#0072b2" stroke-width="1.1" fill="none"/><circle cx="282.5" cy="489.5" r="5" fill="none" stroke="#0072b2" stroke-width="1.2"/><path d="M282.5,483.0V484.5M282.5,494.5V496.0M276.0,489.5H277.5M287.5,489.5H289.0" stroke="#0072b2" stroke-width="1.1" fill="none"/><circle cx="315.1" cy="485.4" r="5" fill="none" stroke="#0072b2" stroke-width="1.2"/><path d="M315.1,478.9V480.4M315.1,490.4V491.9M308.6,485.4H310.1M320.1,485.4H321.6" stroke="#0072b2" stroke-width="1.1" fill="none"/><circle cx="319.2" cy="488.5" r="5" fill="none" stroke="#0072b2" stroke-width="1.2"/><path d="M319.2,482.0V483.5M319.2,493.5V495.0M312.7,488.5H314.2M324.2,488.5H325.7" stroke="#0072b2" stroke-width="1.1" fill="none"/><circle cx="353.5" cy="488" r="5" fill="none" stroke="#0072b2" stroke-width="1.2"/><path d="M353.5,481.5V483M353.5,493V494.5M347.0,488H348.5M358.5,488H360.0" stroke="#0072b2" stroke-width="1.1" fill="none"/><circle cx="356.8" cy="488" r="5" fill="none" stroke="#0072b2" stroke-width="1.2"/><path d="M356.8,481.5V483M356.8,493V494.5M350.3,488H351.8M361.8,488H363.3" stroke="#0072b2" stroke-width="1.1" fill="none"/><circle cx="389.4" cy="488.5" r="5" fill="none" stroke="#0072b2" stroke-width="1.2"/><path d="M389.4,482.0V483.5M389.4,493.5V495.0M382.9,488.5H384.4M394.4,488.5H395.9" stroke="#0072b2" stroke-width="1.1" fill="none"/><circle cx="394.6" cy="482.5" r="5" fill="none" stroke="#0072b2" stroke-width="1.2"/><path d="M394.6,476.0V477.5M394.6,487.5V489.0M388.1,482.5H389.6M399.6,482.5H401.1" stroke="#0072b2" stroke-width="1.1" fill="none"/><circle cx="427" cy="484" r="5" fill="none" stroke="#0072b2" stroke-width="1.2"/><path d="M427,477.5V479M427,489V490.5M420.5,484H422M432,484H433.5" stroke="#0072b2" stroke-width="1.1" fill="none"/><circle cx="430.5" cy="485" r="5" fill="none" stroke="#0072b2" stroke-width="1.2"/><path d="M430.5,478.5V480M430.5,490V491.5M424.0,485H425.5M435.5,485H437.0" stroke="#0072b2" stroke-width="1.1" fill="none"/><circle cx="464.5" cy="473.5" r="5" fill="none" stroke="#0072b2" stroke-width="1.2"/><path d="M464.5,467.0V468.5M464.5,478.5V480.0M458.0,473.5H459.5M469.5,473.5H471.0" stroke="#0072b2" stroke-width="1.1" fill="none"/><circle cx="468" cy="484.5" r="5" fill="none" stroke="#0072b2" stroke-width="1.2"/><path d="M468,478.0V479.5M468,489.5V491.0M461.5,484.5H463M473,484.5H474.5" stroke="#0072b2" stroke-width="1.1" fill="none"/><circle cx="505.5" cy="466.5" r="5" fill="none" stroke="#0072b2" stroke-width="1.2"/><path d="M505.5,460.0V461.5M505.5,471.5V473.0M499.0,466.5H500.5M510.5,466.5H512.0" stroke="#0072b2" stroke-width="1.1" fill="none"/><circle cx="501.5" cy="484" r="5" fill="none" stroke="#0072b2" stroke-width="1.2"/><path d="M501.5,477.5V479M501.5,489V490.5M495.0,484H496.5M506.5,484H508.0" stroke="#0072b2" stroke-width="1.1" fill="none"/><circle cx="538.3" cy="484.1" r="5" fill="none" stroke="#0072b2" stroke-width="1.2"/><path d="M538.3,477.6V479.1M538.3,489.1V490.6M531.8,484.1H533.3M543.3,484.1H544.8" stroke="#0072b2" stroke-width="1.1" fill="none"/><circle cx="543.7" cy="483.4" r="5" fill="none" stroke="#0072b2" stroke-width="1.2"/><path d="M543.7,476.9V478.4M543.7,488.4V489.9M537.2,483.4H538.7M548.7,483.4H550.2" stroke="#0072b2" stroke-width="1.1" fill="none"/><circle cx="576.6" cy="480.3" r="5" fill="none" stroke="#0072b2" stroke-width="1.2"/><path d="M576.6,473.8V475.3M576.6,485.3V486.8M570.1,480.3H571.6M581.6,480.3H583.1" stroke="#0072b2" stroke-width="1.1" fill="none"/><circle cx="580.5" cy="482.2" r="5" fill="none" stroke="#0072b2" stroke-width="1.2"/><path d="M580.5,475.7V477.2M580.5,487.2V488.7M574.0,482.2H575.5M585.5,482.2H587.0" stroke="#0072b2" stroke-width="1.1" fill="none"/><circle cx="613.3" cy="484.4" r="5" fill="none" stroke="#0072b2" stroke-width="1.2"/><path d="M613.3,477.9V479.4M613.3,489.4V490.9M606.8,484.4H608.3M618.3,484.4H619.8" stroke="#0072b2" stroke-width="1.1" fill="none"/><circle cx="617.5" cy="481.3" r="5" fill="none" stroke="#0072b2" stroke-width="1.2"/><path d="M617.5,474.8V476.3M617.5,486.3V487.8M611.0,481.3H612.5M622.5,481.3H624.0" stroke="#0072b2" stroke-width="1.1" fill="none"/><circle cx="650.5" cy="465.3" r="5" fill="none" stroke="#0072b2" stroke-width="1.2"/><path d="M650.5,458.8V460.3M650.5,470.3V471.8M644.0,465.3H645.5M655.5,465.3H657.0" stroke="#0072b2" stroke-width="1.1" fill="none"/><circle cx="655.4" cy="484.2" r="5" fill="none" stroke="#0072b2" stroke-width="1.2"/><path d="M655.4,477.7V479.2M655.4,489.2V490.7M648.9,484.2H650.4M660.4,484.2H661.9" stroke="#0072b2" stroke-width="1.1" fill="none"/><circle cx="688.5" cy="475.4" r="5" fill="none" stroke="#0072b2" stroke-width="1.2"/><path d="M688.5,468.9V470.4M688.5,480.4V481.9M682.0,475.4H683.5M693.5,475.4H695.0" stroke="#0072b2" stroke-width="1.1" fill="none"/><circle cx="692.5" cy="484.4" r="5" fill="none" stroke="#0072b2" stroke-width="1.2"/><path d="M692.5,477.9V479.4M692.5,489.4V490.9M686.0,484.4H687.5M697.5,484.4H699.0" stroke="#0072b2" stroke-width="1.1" fill="none"/><circle cx="725.5" cy="477.4" r="5" fill="none" stroke="#0072b2" stroke-width="1.2"/><path d="M725.5,470.9V472.4M725.5,482.4V483.9M719.0,477.4H720.5M730.5,477.4H732.0" stroke="#0072b2" stroke-width="1.1" fill="none"/><circle cx="729.4" cy="485.4" r="5" fill="none" stroke="#0072b2" stroke-width="1.2"/><path d="M729.4,478.9V480.4M729.4,490.4V491.9M722.9,485.4H724.4M734.4,485.4H735.9" stroke="#0072b2" stroke-width="1.1" fill="none"/><circle cx="762.4" cy="472.4" r="5" fill="none" stroke="#0072b2" stroke-width="1.2"/><path d="M762.4,465.9V467.4M762.4,477.4V478.9M755.9,472.4H757.4M767.4,472.4H768.9" stroke="#0072b2" stroke-width="1.1" fill="none"/><circle cx="766.7" cy="476.4" r="5" fill="none" stroke="#0072b2" stroke-width="1.2"/><path d="M766.7,469.9V471.4M766.7,481.4V482.9M760.2,476.4H761.7M771.7,476.4H773.2" stroke="#0072b2" stroke-width="1.1" fill="none"/><circle cx="799.3" cy="483.4" r="5" fill="none" stroke="#0072b2" stroke-width="1.2"/><path d="M799.3,476.9V478.4M799.3,488.4V489.9M792.8,483.4H794.3M804.3,483.4H805.8" stroke="#0072b2" stroke-width="1.1" fill="none"/><circle cx="804.7" cy="480.3" r="5" fill="none" stroke="#0072b2" stroke-width="1.2"/><path d="M804.7,473.8V475.3M804.7,485.3V486.8M798.2,480.3H799.7M809.7,480.3H811.2" stroke="#0072b2" stroke-width="1.1" fill="none"/><circle cx="837" cy="474.5" r="5" fill="none" stroke="#0072b2" stroke-width="1.2"/><path d="M837,468.0V469.5M837,479.5V481.0M830.5,474.5H832M842,474.5H843.5" stroke="#0072b2" stroke-width="1.1" fill="none"/><circle cx="841.5" cy="481" r="5" fill="none" stroke="#0072b2" stroke-width="1.2"/><path d="M841.5,474.5V476M841.5,486V487.5M835.0,481H836.5M846.5,481H848.0" stroke="#0072b2" stroke-width="1.1" fill="none"/><circle cx="875.5" cy="485" r="5" fill="none" stroke="#0072b2" stroke-width="1.2"/><path d="M875.5,478.5V480M875.5,490V491.5M869.0,485H870.5M880.5,485H882.0" stroke="#0072b2" stroke-width="1.1" fill="none"/><circle cx="879" cy="485" r="5" fill="none" stroke="#0072b2" stroke-width="1.2"/><path d="M879,478.5V480M879,490V491.5M872.5,485H874M884,485H885.5" stroke="#0072b2" stroke-width="1.1" fill="none"/><circle cx="912" cy="485.5" r="5" fill="none" stroke="#0072b2" stroke-width="1.2"/><path d="M912,479.0V480.5M912,490.5V492.0M905.5,485.5H907M917,485.5H918.5" stroke="#0072b2" stroke-width="1.1" fill="none"/><circle cx="917" cy="488.5" r="5" fill="none" stroke="#0072b2" stroke-width="1.2"/><path d="M917,482.0V483.5M917,493.5V495.0M910.5,488.5H912M922,488.5H923.5" stroke="#0072b2" stroke-width="1.1" fill="none"/><circle cx="949.5" cy="485" r="5" fill="none" stroke="#0072b2" stroke-width="1.2"/><path d="M949.5,478.5V480M949.5,490V491.5M943.0,485H944.5M954.5,485H956.0" stroke="#0072b2" stroke-width="1.1" fill="none"/><circle cx="953.5" cy="485" r="5" fill="none" stroke="#0072b2" stroke-width="1.2"/><path d="M953.5,478.5V480M953.5,490V491.5M947.0,485H948.5M958.5,485H960.0" stroke="#0072b2" stroke-width="1.1" fill="none"/><circle cx="986.5" cy="484.5" r="5" fill="none" stroke="#0072b2" stroke-width="1.2"/><path d="M986.5,478.0V479.5M986.5,489.5V491.0M980.0,484.5H981.5M991.5,484.5H993.0" stroke="#0072b2" stroke-width="1.1" fill="none"/><circle cx="95.5" cy="517.8907490650689" r="5.6" fill="#e51e10"/><path d="M95.5,511.3907490650689V512.8907490650689M95.5,522.8907490650689V524.3907490650689M89.0,517.8907490650689H90.5M100.5,517.8907490650689H102.0" stroke="#e51e10" stroke-width="1.1" fill="none"/><circle cx="128.2" cy="518.6388315789596" r="5.6" fill="#e51e10"/><path d="M128.2,512.1388315789596V513.6388315789596M128.2,523.6388315789596V525.1388315789596M121.69999999999999,518.6388315789596H123.19999999999999M133.2,518.6388315789596H134.7" stroke="#e51e10" stroke-width="1.1" fill="none"/><circle cx="170.5" cy="518.0404665233758" r="5.6" fill="#e51e10"/><path d="M170.5,511.5404665233758V513.0404665233758M170.5,523.0404665233758V524.5404665233758M164.0,518.0404665233758H165.5M175.5,518.0404665233758H177.0" stroke="#e51e10" stroke-width="1.1" fill="none"/><circle cx="203.1" cy="520.1480553681226" r="5.6" fill="#e51e10"/><path d="M203.1,513.6480553681226V515.1480553681226M203.1,525.1480553681226V526.6480553681226M196.6,520.1480553681226H198.1M208.1,520.1480553681226H209.6" stroke="#e51e10" stroke-width="1.1" fill="none"/><circle cx="207.8" cy="517.6855518796787" r="5.6" fill="#e51e10"/><path d="M207.8,511.18555187967866V512.6855518796787M207.8,522.6855518796787V524.1855518796787M201.3,517.6855518796787H202.8M212.8,517.6855518796787H214.3" stroke="#e51e10" stroke-width="1.1" fill="none"/><circle cx="240.2" cy="518.1127369717569" r="5.6" fill="#e51e10"/><path d="M240.2,511.61273697175693V513.1127369717569M240.2,523.1127369717569V524.6127369717569M233.7,518.1127369717569H235.2M245.2,518.1127369717569H246.7" stroke="#e51e10" stroke-width="1.1" fill="none"/><circle cx="244.8" cy="517.9171856021012" r="5.6" fill="#e51e10"/><path d="M244.8,511.4171856021012V512.9171856021012M244.8,522.9171856021012V524.4171856021012M238.3,517.9171856021012H239.8M249.8,517.9171856021012H251.3" stroke="#e51e10" stroke-width="1.1" fill="none"/><circle cx="276.9" cy="519.3559656688993" r="5.6" fill="#e51e10"/><path d="M276.9,512.8559656688993V514.3559656688993M276.9,524.3559656688993V525.8559656688993M270.4,519.3559656688993H271.9M281.9,519.3559656688993H283.4" stroke="#e51e10" stroke-width="1.1" fill="none"/><circle cx="282.5" cy="518.7623174864184" r="5.6" fill="#e51e10"/><path d="M282.5,512.2623174864184V513.7623174864184M282.5,523.7623174864184V525.2623174864184M276.0,518.7623174864184H277.5M287.5,518.7623174864184H289.0" stroke="#e51e10" stroke-width="1.1" fill="none"/><circle cx="315.1" cy="519.0300904761618" r="5.6" fill="#e51e10"/><path d="M315.1,512.5300904761618V514.0300904761618M315.1,524.0300904761618V525.5300904761618M308.6,519.0300904761618H310.1M320.1,519.0300904761618H321.6" stroke="#e51e10" stroke-width="1.1" fill="none"/><circle cx="319.2" cy="518.845741776214" r="5.6" fill="#e51e10"/><path d="M319.2,512.345741776214V513.845741776214M319.2,523.845741776214V525.345741776214M312.7,518.845741776214H314.2M324.2,518.845741776214H325.7" stroke="#e51e10" stroke-width="1.1" fill="none"/><circle cx="353.5" cy="519.0526540831469" r="5.6" fill="#e51e10"/><path d="M353.5,512.5526540831469V514.0526540831469M353.5,524.0526540831469V525.5526540831469M347.0,519.0526540831469H348.5M358.5,519.0526540831469H360.0" stroke="#e51e10" stroke-width="1.1" fill="none"/><circle cx="356.8" cy="518.8909174529283" r="5.6" fill="#e51e10"/><path d="M356.8,512.3909174529283V513.8909174529283M356.8,523.8909174529283V525.3909174529283M350.3,518.8909174529283H351.8M361.8,518.8909174529283H363.3" stroke="#e51e10" stroke-width="1.1" fill="none"/><circle cx="389.4" cy="519.3441730382642" r="5.6" fill="#e51e10"/><path d="M389.4,512.8441730382642V514.3441730382642M389.4,524.3441730382642V525.8441730382642M382.9,519.3441730382642H384.4M394.4,519.3441730382642H395.9" stroke="#e51e10" stroke-width="1.1" fill="none"/><circle cx="394.6" cy="519.9246541084345" r="5.6" fill="#e51e10"/><path d="M394.6,513.4246541084345V514.9246541084345M394.6,524.9246541084345V526.4246541084345M388.1,519.9246541084345H389.6M399.6,519.9246541084345H401.1" stroke="#e51e10" stroke-width="1.1" fill="none"/><circle cx="427" cy="517.6926859383985" r="5.6" fill="#e51e10"/><path d="M427,511.19268593839854V512.6926859383985M427,522.6926859383985V524.1926859383985M420.5,517.6926859383985H422M432,517.6926859383985H433.5" stroke="#e51e10" stroke-width="1.1" fill="none"/><circle cx="430.5" cy="517.9986967030403" r="5.6" fill="#e51e10"/><path d="M430.5,511.4986967030403V512.9986967030403M430.5,522.9986967030403V524.4986967030403M424.0,517.9986967030403H425.5M435.5,517.9986967030403H437.0" stroke="#e51e10" stroke-width="1.1" fill="none"/><circle cx="464.5" cy="517.3347562713093" r="5.6" fill="#e51e10"/><path d="M464.5,510.8347562713093V512.3347562713093M464.5,522.3347562713093V523.8347562713093M458.0,517.3347562713093H459.5M469.5,517.3347562713093H471.0" stroke="#e51e10" stroke-width="1.1" fill="none"/><circle cx="468" cy="517.4665564485149" r="5.6" fill="#e51e10"/><path d="M468,510.9665564485149V512.4665564485149M468,522.4665564485149V523.9665564485149M461.5,517.4665564485149H463M473,517.4665564485149H474.5" stroke="#e51e10" stroke-width="1.1" fill="none"/><circle cx="505.5" cy="517.3655502388093" r="5.6" fill="#e51e10"/><path d="M505.5,510.8655502388093V512.3655502388093M505.5,522.3655502388093V523.8655502388093M499.0,517.3655502388093H500.5M510.5,517.3655502388093H512.0" stroke="#e51e10" stroke-width="1.1" fill="none"/><circle cx="501.5" cy="517.8669120351232" r="5.6" fill="#e51e10"/><path d="M501.5,511.36691203512316V512.8669120351232M501.5,522.8669120351232V524.3669120351232M495.0,517.8669120351232H496.5M506.5,517.8669120351232H508.0" stroke="#e51e10" stroke-width="1.1" fill="none"/><circle cx="538.3" cy="517.8672045370486" r="5.6" fill="#e51e10"/><path d="M538.3,511.36720453704856V512.8672045370486M538.3,522.8672045370486V524.3672045370486M531.8,517.8672045370486H533.3M543.3,517.8672045370486H544.8" stroke="#e51e10" stroke-width="1.1" fill="none"/><circle cx="543.7" cy="518.1800498638866" r="5.6" fill="#e51e10"/><path d="M543.7,511.68004986388655V513.1800498638866M543.7,523.1800498638866V524.6800498638866M537.2,518.1800498638866H538.7M548.7,518.1800498638866H550.2" stroke="#e51e10" stroke-width="1.1" fill="none"/><circle cx="576.6" cy="517.1768679948838" r="5.6" fill="#e51e10"/><path d="M576.6,510.67686799488376V512.1768679948838M576.6,522.1768679948838V523.6768679948838M570.1,517.1768679948838H571.6M581.6,517.1768679948838H583.1" stroke="#e51e10" stroke-width="1.1" fill="none"/><circle cx="580.5" cy="517.5423201430244" r="5.6" fill="#e51e10"/><path d="M580.5,511.0423201430244V512.5423201430244M580.5,522.5423201430244V524.0423201430244M574.0,517.5423201430244H575.5M585.5,517.5423201430244H587.0" stroke="#e51e10" stroke-width="1.1" fill="none"/><circle cx="613.3" cy="517.76968631889" r="5.6" fill="#e51e10"/><path d="M613.3,511.26968631888997V512.76968631889M613.3,522.76968631889V524.26968631889M606.8,517.76968631889H608.3M618.3,517.76968631889H619.8" stroke="#e51e10" stroke-width="1.1" fill="none"/><circle cx="617.5" cy="518.4137166646868" r="5.6" fill="#e51e10"/><path d="M617.5,511.91371666468683V513.4137166646868M617.5,523.4137166646868V524.9137166646868M611.0,518.4137166646868H612.5M622.5,518.4137166646868H624.0" stroke="#e51e10" stroke-width="1.1" fill="none"/><circle cx="650.5" cy="517.366466354645" r="5.6" fill="#e51e10"/><path d="M650.5,510.866466354645V512.366466354645M650.5,522.366466354645V523.866466354645M644.0,517.366466354645H645.5M655.5,517.366466354645H657.0" stroke="#e51e10" stroke-width="1.1" fill="none"/><circle cx="655.4" cy="517.952788562812" r="5.6" fill="#e51e10"/><path d="M655.4,511.452788562812V512.952788562812M655.4,522.952788562812V524.452788562812M648.9,517.952788562812H650.4M660.4,517.952788562812H661.9" stroke="#e51e10" stroke-width="1.1" fill="none"/><circle cx="688.5" cy="515.56671586169" r="5.6" fill="#e51e10"/><path d="M688.5,509.06671586169V510.56671586169M688.5,520.56671586169V522.06671586169M682.0,515.56671586169H683.5M693.5,515.56671586169H695.0" stroke="#e51e10" stroke-width="1.1" fill="none"/><circle cx="692.5" cy="515.341106468447" r="5.6" fill="#e51e10"/><path d="M692.5,508.84110646844704V510.34110646844704M692.5,520.341106468447V521.841106468447M686.0,515.341106468447H687.5M697.5,515.341106468447H699.0" stroke="#e51e10" stroke-width="1.1" fill="none"/><circle cx="725.5" cy="518.0510166591993" r="5.6" fill="#e51e10"/><path d="M725.5,511.55101665919926V513.0510166591993M725.5,523.0510166591993V524.5510166591993M719.0,518.0510166591993H720.5M730.5,518.0510166591993H732.0" stroke="#e51e10" stroke-width="1.1" fill="none"/><circle cx="729.4" cy="518.4309070842014" r="5.6" fill="#e51e10"/><path d="M729.4,511.9309070842014V513.4309070842014M729.4,523.4309070842014V524.9309070842014M722.9,518.4309070842014H724.4M734.4,518.4309070842014H735.9" stroke="#e51e10" stroke-width="1.1" fill="none"/><circle cx="762.4" cy="517.1934969143769" r="5.6" fill="#e51e10"/><path d="M762.4,510.69349691437685V512.1934969143769M762.4,522.1934969143769V523.6934969143769M755.9,517.1934969143769H757.4M767.4,517.1934969143769H768.9" stroke="#e51e10" stroke-width="1.1" fill="none"/><circle cx="766.7" cy="517.3242680521508" r="5.6" fill="#e51e10"/><path d="M766.7,510.82426805215084V512.3242680521508M766.7,522.3242680521508V523.8242680521508M760.2,517.3242680521508H761.7M771.7,517.3242680521508H773.2" stroke="#e51e10" stroke-width="1.1" fill="none"/><circle cx="799.3" cy="519.066466416384" r="5.6" fill="#e51e10"/><path d="M799.3,512.566466416384V514.066466416384M799.3,524.066466416384V525.566466416384M792.8,519.066466416384H794.3M804.3,519.066466416384H805.8" stroke="#e51e10" stroke-width="1.1" fill="none"/><circle cx="804.7" cy="519.1184085468461" r="5.6" fill="#e51e10"/><path d="M804.7,512.6184085468461V514.1184085468461M804.7,524.1184085468461V525.6184085468461M798.2,519.1184085468461H799.7M809.7,519.1184085468461H811.2" stroke="#e51e10" stroke-width="1.1" fill="none"/><circle cx="837" cy="517.6399454034174" r="5.6" fill="#e51e10"/><path d="M837,511.1399454034174V512.6399454034174M837,522.6399454034174V524.1399454034174M830.5,517.6399454034174H832M842,517.6399454034174H843.5" stroke="#e51e10" stroke-width="1.1" fill="none"/><circle cx="841.5" cy="518.3317750964005" r="5.6" fill="#e51e10"/><path d="M841.5,511.8317750964005V513.3317750964005M841.5,523.3317750964005V524.8317750964005M835.0,518.3317750964005H836.5M846.5,518.3317750964005H848.0" stroke="#e51e10" stroke-width="1.1" fill="none"/><circle cx="875.5" cy="518.1402217048937" r="5.6" fill="#e51e10"/><path d="M875.5,511.64022170489375V513.1402217048937M875.5,523.1402217048937V524.6402217048937M869.0,518.1402217048937H870.5M880.5,518.1402217048937H882.0" stroke="#e51e10" stroke-width="1.1" fill="none"/><circle cx="879" cy="518.1483702513965" r="5.6" fill="#e51e10"/><path d="M879,511.6483702513965V513.1483702513965M879,523.1483702513965V524.6483702513965M872.5,518.1483702513965H874M884,518.1483702513965H885.5" stroke="#e51e10" stroke-width="1.1" fill="none"/><circle cx="912" cy="518.8038989710373" r="5.6" fill="#e51e10"/><path d="M912,512.3038989710373V513.8038989710373M912,523.8038989710373V525.3038989710373M905.5,518.8038989710373H907M917,518.8038989710373H918.5" stroke="#e51e10" stroke-width="1.1" fill="none"/><circle cx="917" cy="519.2630113157118" r="5.6" fill="#e51e10"/><path d="M917,512.7630113157118V514.2630113157118M917,524.2630113157118V525.7630113157118M910.5,519.2630113157118H912M922,519.2630113157118H923.5" stroke="#e51e10" stroke-width="1.1" fill="none"/><circle cx="949.5" cy="518.5271661706868" r="5.6" fill="#e51e10"/><path d="M949.5,512.0271661706868V513.5271661706868M949.5,523.5271661706868V525.0271661706868M943.0,518.5271661706868H944.5M954.5,518.5271661706868H956.0" stroke="#e51e10" stroke-width="1.1" fill="none"/><circle cx="953.5" cy="518.3204154921253" r="5.6" fill="#e51e10"/><path d="M953.5,511.82041549212533V513.3204154921253M953.5,523.3204154921253V524.8204154921253M947.0,518.3204154921253H948.5M958.5,518.3204154921253H960.0" stroke="#e51e10" stroke-width="1.1" fill="none"/><circle cx="986.5" cy="517.4918282740165" r="5.6" fill="#e51e10"/><path d="M986.5,510.9918282740165V512.4918282740165M986.5,522.4918282740165V523.9918282740165M980.0,517.4918282740165H981.5M991.5,517.4918282740165H993.0" stroke="#e51e10" stroke-width="1.1" fill="none"/><path d="M169.5,444L177.8,456.5H161.2Z" fill="none" stroke="#000" stroke-width="1.3"/><path d="M414.7,444L423.0,456.5H406.4Z" fill="none" stroke="#000" stroke-width="1.4"/><path d="M163.0,413.7h13M169.5,407.2v13" stroke="#9400d3" stroke-width="1.2"/><rect x="411.0" y="402" width="13" height="1.2" fill="#9400d3"/><rect x="411.0" y="404" width="13" height="1.2" fill="#9400d3"/><rect x="411.0" y="406" width="13" height="1.2" fill="#9400d3"/><rect x="411.0" y="408" width="13" height="1.2" fill="#9400d3"/><rect x="411.0" y="411" width="13" height="1.2" fill="#9400d3"/><rect x="411.0" y="413" width="13" height="1.2" fill="#9400d3"/><rect x="701.0" y="402" width="13" height="1.2" fill="#9400d3"/><rect x="701.0" y="404" width="13" height="1.2" fill="#9400d3"/><rect x="701.0" y="406" width="13" height="1.2" fill="#9400d3"/><rect x="701.0" y="408" width="13" height="1.2" fill="#9400d3"/><rect x="701.0" y="411" width="13" height="1.2" fill="#9400d3"/><rect x="701.0" y="413" width="13" height="1.2" fill="#9400d3"/><rect x="972.0" y="402" width="13" height="1.2" fill="#9400d3"/><rect x="972.0" y="404" width="13" height="1.2" fill="#9400d3"/><rect x="972.0" y="406" width="13" height="1.2" fill="#9400d3"/><rect x="972.0" y="408" width="13" height="1.2" fill="#9400d3"/><rect x="972.0" y="411" width="13" height="1.2" fill="#9400d3"/><rect x="972.0" y="413" width="13" height="1.2" fill="#9400d3"/><path d="M923,90.5H970" stroke="#9400d3" stroke-width="1.3"/><path d="M923,109.4H970" stroke="#009e73" stroke-width="1.3"/><path d="M923,128.3H970" stroke="#56b4e9" stroke-width="1.3"/><rect x="940.5" y="141.7" width="12" height="12" fill="none" stroke="#e69f00" stroke-width="1.2"/><rect x="940.0" y="160.1" width="13" height="13" fill="#f0e442" shape-rendering="crispEdges"/><circle cx="946.5" cy="185.5" r="5" fill="none" stroke="#0072b2" stroke-width="1.2"/><path d="M946.5,179.0V180.5M946.5,190.5V192.0M940.0,185.5H941.5M951.5,185.5H953.0" stroke="#0072b2" stroke-width="1.1" fill="none"/><circle cx="946.5" cy="204.39999999999998" r="5.6" fill="#e51e10"/><path d="M946.5,197.89999999999998V199.39999999999998M946.5,209.39999999999998V210.89999999999998M940.0,204.39999999999998H941.5M951.5,204.39999999999998H953.0" stroke="#e51e10" stroke-width="1.1" fill="none"/><path d="M946.5,215.29999999999998L954.8,227.79999999999998H938.2Z" fill="none" stroke="#000" stroke-width="1"/><path d="M940.0,242.2h13M946.5,235.7v13" stroke="#9400d3" stroke-width="1.2"/><g stroke="#000" stroke-width="1" fill="none"><rect x="94.5" y="74.5" width="895.0" height="448.0"/></g>
</svg></body></html>
